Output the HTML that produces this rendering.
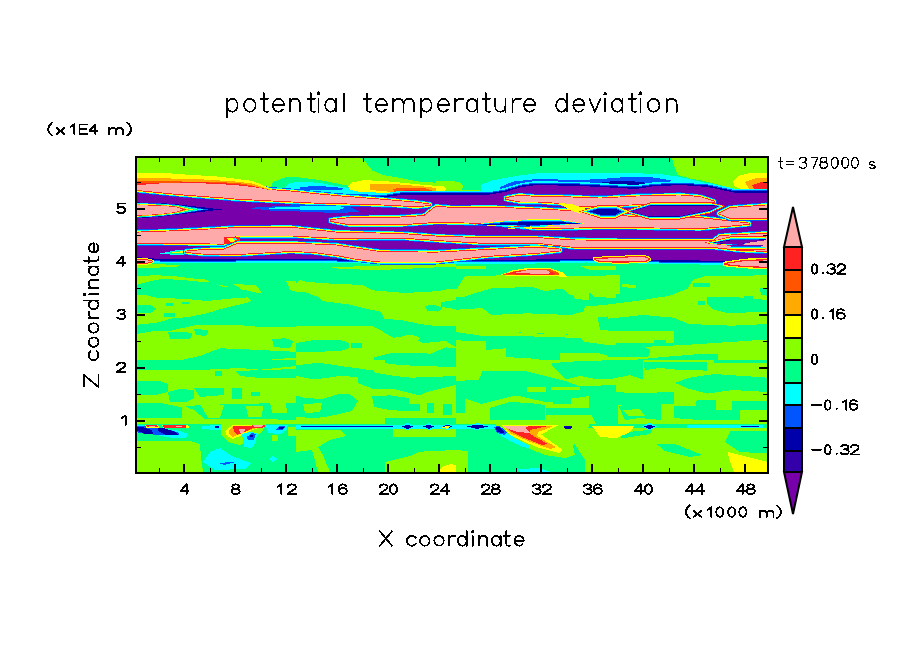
<!DOCTYPE html>
<html><head><meta charset="utf-8"><style>
html,body{margin:0;padding:0;background:#fff;}
svg{display:block;}
text{font-family:"Liberation Sans",sans-serif;fill:#000;}
.b{font-weight:bold;font-size:16px;}
</style></head><body>
<svg width="904" height="654" viewBox="0 0 904 654">
<rect width="904" height="654" fill="#fff"/>
<defs><clipPath id="pc"><rect x="137" y="158" width="630" height="314"/></clipPath></defs>
<g id="field" shape-rendering="crispEdges" clip-path="url(#pc)">
<rect x="136" y="157" width="632" height="316" fill="#88ff00"/>
<!--FIELD-->
<polygon fill="#00ff88" points="136.0,262.0 768.0,262.0 768.0,473.0 136.0,473.0"/>
<polygon fill="#88ff00" points="136.0,276.2 153.7,275.3 171.0,275.8 189.0,278.0 206.8,279.7 209.5,281.5 206.8,282.4 189.0,280.6 162.5,278.8 145.0,282.4 136.0,285.0"/>
<polygon fill="#88ff00" points="215.6,284.0 229.8,286.8 222.0,286.5"/>
<polygon fill="#88ff00" points="232.5,284.0 256.0,285.0 262.5,293.9 242.0,289.5"/>
<polygon fill="#88ff00" points="286.4,281.5 296.0,281.0 296.0,292.0 290.0,290.0"/>
<polygon fill="#88ff00" points="136.0,295.6 145.0,294.7 153.7,297.4 189.0,299.2 206.8,301.0 233.0,298.3 247.5,297.4 251.0,301.0 247.5,302.7 224.5,308.0 206.8,313.3 189.0,316.9 171.0,318.6 159.0,322.2 145.0,324.0 136.0,324.8"/>
<polygon fill="#00ff88" points="166.0,302.7 173.0,303.0 173.0,306.2 166.0,306.0"/>
<polygon fill="#00ff88" points="182.0,302.0 189.0,302.5 188.0,304.5 182.0,304.0"/>
<polygon fill="#00ff88" points="164.0,313.3 175.0,313.3 175.0,316.9 164.0,316.9"/>
<polygon fill="#00ff88" points="136.0,304.5 150.0,305.0 157.0,309.0 150.0,313.0 136.0,313.0"/>
<polygon fill="#88ff00" points="331.0,267.3 380.0,265.5 456.0,263.8 456.0,266.5 380.0,270.0 340.0,269.0"/>
<polygon fill="#88ff00" points="296.0,283.2 299.5,279.7 305.0,281.5 322.5,283.2 363.0,285.0 372.0,290.3 405.7,293.0 437.6,291.2 451.7,288.5 456.0,289.4 456.0,300.0 441.0,302.0 441.0,307.0 456.0,309.0 456.0,328.4 420.0,324.0 402.0,320.4 384.5,318.6 381.0,311.6 366.8,308.9 349.0,304.5 322.5,301.0 319.0,297.4 305.0,292.0 296.0,292.0"/>
<polygon fill="#00ff88" points="425.0,306.0 433.0,304.5 443.0,308.0 438.0,311.6 427.0,310.5"/>
<polygon fill="#88ff00" points="456.0,265.5 486.0,266.0 486.0,269.0 456.0,269.0"/>
<polygon fill="#88ff00" points="580.0,266.0 616.0,265.5 616.0,270.0 590.0,270.0"/>
<polygon fill="#88ff00" points="456.0,290.0 465.0,276.0 509.0,275.3 571.0,276.2 616.0,275.3 616.0,292.0 597.6,293.2 580.0,293.0 571.0,295.6 562.0,288.5 544.5,291.2 532.0,286.8 491.0,288.5 479.0,292.0 465.0,296.5 456.0,297.4"/>
<polygon fill="#88ff00" points="571.0,292.0 589.0,293.0 589.0,300.0 575.0,299.0"/>
<polygon fill="#88ff00" points="590.0,293.0 616.0,292.0 616.0,298.0 595.0,297.0"/>
<polygon fill="#88ff00" points="456.0,309.8 482.5,308.0 491.4,315.0 527.0,313.3 571.0,315.0 583.4,311.6 585.0,306.2 616.0,304.5 616.0,343.0 585.0,339.5 580.0,335.0 518.0,332.4 506.0,332.0 482.5,330.6 463.0,324.4 456.0,325.3"/>
<polygon fill="#00ff88" points="597.6,317.0 616.0,316.0 616.0,331.0 600.0,330.0"/>
<polygon fill="#88ff00" points="608.0,275.3 620.0,275.3 620.0,293.9 608.0,293.9"/>
<polygon fill="#88ff00" points="622.0,284.0 636.0,285.0 636.0,288.5 622.0,287.0"/>
<polygon fill="#88ff00" points="608.0,304.5 643.4,300.0 670.0,295.6 687.6,288.5 693.0,279.7 705.4,276.2 767.0,275.3 767.0,324.0 731.9,325.7 687.6,324.0 675.0,317.8 643.4,315.0 608.0,318.6"/>
<polygon fill="#00ff88" points="707.0,297.0 714.0,296.5 740.0,297.5 767.0,300.0 767.0,311.6 728.0,313.3 714.0,309.8 707.0,304.0"/>
<polygon fill="#00ff88" points="698.0,301.0 705.0,301.5 705.0,305.4 698.0,305.0"/>
<polygon fill="#00ff88" points="744.0,296.5 753.0,296.0 753.0,300.0 745.0,300.0"/>
<polygon fill="#00ff88" points="760.0,288.5 767.0,288.0 767.0,295.6 761.0,295.0"/>
<polygon fill="#00ff88" points="693.0,283.0 710.0,283.5 710.0,286.8 693.0,286.5"/>
<polygon fill="#88ff00" points="136.0,264.0 160.0,264.0 185.0,266.0 160.0,267.5 136.0,268.0"/>
<polygon fill="#88ff00" points="136.0,334.0 153.7,331.0 171.4,330.6 194.0,325.3 242.0,325.3 260.0,327.0 296.0,327.0 296.0,351.9 260.0,350.0 221.0,348.3 210.3,351.9 201.5,355.4 171.4,362.5 153.7,364.2 136.0,362.5"/>
<polygon fill="#00ff88" points="168.0,332.4 180.0,331.5 192.6,333.0 190.0,339.5 170.0,339.0"/>
<polygon fill="#00ff88" points="194.0,329.0 208.6,330.0 206.0,336.0 196.0,335.0"/>
<polygon fill="#00ff88" points="272.0,339.5 285.0,338.0 293.5,341.0 290.0,348.3 274.0,347.0"/>
<polygon fill="#88ff00" points="136.0,373.1 171.4,375.8 206.8,378.4 242.0,380.2 260.0,376.6 296.0,376.6 296.0,392.0 136.0,392.0"/>
<polygon fill="#88ff00" points="251.0,362.5 267.0,362.0 267.0,367.8 251.0,367.0"/>
<polygon fill="#88ff00" points="272.0,359.0 296.0,358.0 296.0,366.0 275.0,366.0"/>
<polygon fill="#88ff00" points="296.0,326.2 456.0,326.2 456.0,376.0 296.0,376.0"/>
<polygon fill="#00ff88" points="296.0,343.0 314.0,340.0 338.5,339.5 349.0,343.0 349.0,348.3 340.0,351.0 314.0,351.9 296.0,351.9"/>
<polygon fill="#00ff88" points="351.0,343.0 361.5,343.0 361.5,348.3 351.0,348.3"/>
<polygon fill="#00ff88" points="372.0,326.0 456.0,326.0 456.0,347.4 446.0,341.0 423.0,343.0 409.0,336.0 393.0,337.7 382.0,331.0"/>
<polygon fill="#88ff00" points="402.0,336.0 412.0,334.5 420.0,338.0 415.0,343.0 404.0,342.0"/>
<polygon fill="#00ff88" points="374.0,357.2 393.0,352.7 431.0,353.6 446.0,347.4 456.0,348.3 456.0,364.2 420.0,366.0 390.0,367.8 374.0,360.7"/>
<polygon fill="#00ff88" points="296.0,366.0 317.0,362.5 349.0,366.0 374.0,371.3 402.0,376.6 456.0,373.0 456.0,392.0 358.0,390.0 350.0,378.0 296.0,378.0"/>
<polygon fill="#88ff00" points="456.0,325.3 463.0,324.4 482.5,330.6 518.0,332.4 523.0,333.0 580.0,335.0 585.0,339.5 616.0,343.0 616.0,364.2 550.0,362.5 527.0,360.7 504.0,357.2 482.5,354.5 456.0,362.5"/>
<polygon fill="#00ff88" points="456.0,332.0 482.5,336.0 518.0,336.0 580.0,338.0 585.0,342.0 616.0,346.0 616.0,358.0 597.6,352.7 560.4,352.7 560.0,362.0 527.0,358.0 505.6,357.2 505.6,348.3 486.0,350.0 486.0,341.0 456.0,340.4"/>
<polygon fill="#88ff00" points="456.0,362.5 482.5,354.5 504.0,357.2 527.0,360.7 550.0,362.5 616.0,364.2 616.0,380.2 571.0,380.2 553.0,374.9 518.0,369.6 481.0,371.3 481.0,390.0 456.0,390.0"/>
<polygon fill="#88ff00" points="608.0,330.6 673.5,330.6 673.5,343.0 608.0,343.0"/>
<polygon fill="#00ff88" points="654.0,339.5 666.4,339.5 666.4,345.7 654.0,345.7"/>
<polygon fill="#88ff00" points="608.0,346.5 652.0,346.5 687.6,344.8 767.0,339.5 767.0,353.6 705.0,353.6 661.0,357.2 608.0,362.5"/>
<polygon fill="#00ff88" points="608.0,344.8 640.0,345.0 650.5,350.0 648.0,357.2 608.0,357.2"/>
<polygon fill="#88ff00" points="717.7,352.7 767.0,353.0 767.0,362.5 740.0,364.2 717.7,362.0"/>
<polygon fill="#88ff00" points="608.0,367.8 643.0,364.2 679.0,371.3 705.0,367.8 767.0,362.5 767.0,392.0 608.0,392.0"/>
<polygon fill="#00ff88" points="608.0,378.4 634.5,378.4 634.5,392.0 608.0,392.0"/>
<polygon fill="#00ff88" points="679.0,373.0 720.0,371.0 767.0,373.0 767.0,392.0 679.0,392.0"/>
<polygon fill="#88ff00" points="136.0,392.0 768.0,392.0 768.0,424.0 136.0,424.0"/>
<polygon fill="#00ff88" points="136.0,382.0 166.0,383.0 166.0,394.0 136.0,394.0"/>
<polygon fill="#00ff88" points="171.0,389.0 200.0,391.0 224.5,390.0 222.0,401.0 190.0,399.0 171.0,397.0"/>
<polygon fill="#00ff88" points="231.6,390.6 260.0,391.0 258.0,399.5 233.0,399.5"/>
<polygon fill="#00ff88" points="267.0,390.6 296.0,390.0 296.0,398.0 270.0,398.0"/>
<polygon fill="#00ff88" points="136.0,403.0 296.0,403.0 296.0,423.0 136.0,423.0"/>
<polygon fill="#88ff00" points="136.0,410.0 180.0,410.5 178.0,420.7 136.0,420.7"/>
<polygon fill="#88ff00" points="185.0,406.5 207.0,406.0 205.0,419.0 187.0,418.0"/>
<polygon fill="#88ff00" points="246.0,408.0 263.0,408.5 262.0,419.0 247.0,418.5"/>
<polygon fill="#88ff00" points="270.0,404.8 293.0,404.0 294.0,415.0 272.0,414.0"/>
<polygon fill="#88ff00" points="215.0,412.0 235.0,410.0 238.0,420.0 220.0,421.0"/>
<polygon fill="#00ff88" points="358.0,380.0 456.0,380.0 456.0,390.6 360.0,390.0"/>
<polygon fill="#00ff88" points="303.0,397.7 331.0,398.0 331.0,412.0 303.0,411.0"/>
<polygon fill="#00ff88" points="331.0,399.5 358.0,399.5 355.0,404.0 333.0,404.0"/>
<polygon fill="#00ff88" points="372.0,399.5 395.0,399.5 395.0,415.4 374.0,414.0"/>
<polygon fill="#00ff88" points="395.0,396.0 456.0,396.0 456.0,403.0 397.0,403.0"/>
<polygon fill="#00ff88" points="409.0,405.0 420.0,405.0 420.0,415.0 409.0,414.0"/>
<polygon fill="#00ff88" points="427.0,405.0 434.0,405.0 434.0,412.0 428.0,412.0"/>
<polygon fill="#00ff88" points="443.0,405.0 452.0,405.0 452.0,415.0 444.0,415.0"/>
<polygon fill="#00ff88" points="456.0,380.0 482.5,380.0 482.5,394.0 456.0,394.0"/>
<polygon fill="#00ff88" points="553.0,380.0 616.0,380.0 616.0,387.0 555.0,387.0"/>
<polygon fill="#00ff88" points="527.0,387.0 553.0,387.0 553.0,390.6 527.0,390.6"/>
<polygon fill="#00ff88" points="456.0,394.0 465.0,394.0 465.0,415.0 456.0,415.0"/>
<polygon fill="#00ff88" points="488.0,408.0 544.5,406.0 571.0,408.0 571.0,424.0 488.0,424.0"/>
<polygon fill="#00ff88" points="571.0,390.6 616.0,390.6 616.0,415.4 580.0,412.0 571.0,400.0"/>
<polygon fill="#88ff00" points="585.0,398.0 600.0,397.0 602.0,406.0 588.0,406.0"/>
<polygon fill="#00ff88" points="608.0,380.0 634.5,380.0 634.5,424.0 608.0,424.0"/>
<polygon fill="#00ff88" points="675.0,380.0 768.0,380.0 768.0,394.0 675.0,394.0"/>
<polygon fill="#00ff88" points="617.0,403.0 675.0,403.0 675.0,424.0 617.0,424.0"/>
<polygon fill="#88ff00" points="619.0,406.5 652.0,406.5 652.0,419.0 619.0,419.0"/>
<polygon fill="#00ff88" points="675.0,399.5 732.0,399.5 732.0,424.0 675.0,424.0"/>
<polygon fill="#88ff00" points="732.0,410.0 767.0,410.0 767.0,420.7 732.0,420.7"/>
<polygon fill="#00ff88" points="740.0,395.0 767.0,396.0 767.0,405.0 745.0,406.0"/>
<polygon fill="#88ff00" points="136.0,360.0 768.0,360.0 768.0,424.0 136.0,424.0"/>
<polygon fill="#00ff88" points="136.0,360.0 296.0,360.0 296.0,366.0 260.0,369.7 240.0,368.0 200.0,370.0 160.0,369.7 136.0,369.7"/>
<polygon fill="#00ff88" points="235.0,371.0 296.0,369.0 296.0,377.7 260.0,378.0 240.0,376.0"/>
<polygon fill="#00ff88" points="215.0,371.0 222.0,371.0 222.0,376.0 215.0,376.0"/>
<polygon fill="#00ff88" points="136.0,381.0 160.0,381.0 168.0,384.0 168.0,392.0 156.0,395.0 136.0,395.4"/>
<polygon fill="#00ff88" points="168.0,392.0 180.0,389.0 194.0,390.0 194.0,398.0 185.0,402.5 170.0,402.0"/>
<polygon fill="#00ff88" points="194.0,388.0 224.0,388.0 224.0,395.0 200.0,397.0"/>
<polygon fill="#00ff88" points="232.0,388.0 242.0,388.0 242.0,399.0 232.0,399.0"/>
<polygon fill="#00ff88" points="251.0,392.0 260.0,392.0 260.0,396.0 251.0,396.0"/>
<polygon fill="#00ff88" points="136.0,402.5 160.0,403.0 180.0,407.0 200.0,405.0 240.0,404.0 296.0,402.5 296.0,420.0 260.0,419.0 220.0,419.5 180.0,418.4 136.0,418.0"/>
<polygon fill="#88ff00" points="182.0,405.0 194.0,410.0 205.0,419.0 182.0,419.0"/>
<polygon fill="#88ff00" points="200.0,404.0 224.0,405.0 220.0,418.0 208.0,418.0"/>
<polygon fill="#88ff00" points="246.0,406.0 263.0,406.0 262.0,417.0 248.0,417.0"/>
<polygon fill="#88ff00" points="270.0,402.5 286.0,402.5 287.0,413.0 272.0,413.0"/>
<polygon fill="#00ff88" points="296.0,365.3 319.0,362.7 342.0,366.2 374.0,370.6 374.0,377.7 340.0,376.0 314.0,379.5 296.0,376.0"/>
<polygon fill="#00ff88" points="384.5,360.0 456.0,360.0 456.0,367.0 420.0,366.0 400.0,365.0 384.5,363.0"/>
<polygon fill="#00ff88" points="358.0,376.0 374.0,372.4 395.0,376.0 411.0,377.7 456.0,376.0 456.0,384.8 427.0,391.9 420.0,395.4 395.0,389.2 374.0,389.2 358.0,383.0"/>
<polygon fill="#00ff88" points="296.0,395.4 305.0,398.0 322.5,399.0 340.0,393.6 349.0,393.6 358.0,400.7 352.0,411.0 330.0,416.0 314.0,418.4 296.0,416.6"/>
<polygon fill="#88ff00" points="303.0,404.0 322.0,403.0 320.0,412.0 305.0,413.0"/>
<polygon fill="#00ff88" points="372.0,396.0 390.0,395.4 409.0,398.0 409.0,411.3 390.0,410.0 374.0,407.0"/>
<polygon fill="#00ff88" points="409.0,404.0 420.0,404.0 420.0,411.3 409.0,411.3"/>
<polygon fill="#00ff88" points="427.0,402.5 434.0,402.5 434.0,413.0 427.0,413.0"/>
<polygon fill="#00ff88" points="443.0,404.0 452.0,404.0 452.0,415.0 443.0,415.0"/>
<polygon fill="#00ff88" points="384.5,418.4 456.0,418.4 456.0,424.0 384.5,424.0"/>
<polygon fill="#00ff88" points="551.6,363.5 565.7,361.8 616.0,360.0 616.0,377.7 597.6,379.5 580.0,376.0 565.7,379.5 553.0,367.0"/>
<polygon fill="#00ff88" points="456.0,381.2 479.0,379.5 482.5,370.6 523.0,370.6 544.5,376.0 565.7,381.2 580.0,386.5 616.0,384.8 616.0,392.0 569.0,399.0 548.0,402.5 516.0,395.4 481.0,404.0 456.0,395.4"/>
<polygon fill="#88ff00" points="527.0,386.5 546.0,386.5 546.0,392.0 527.0,392.0"/>
<polygon fill="#88ff00" points="551.0,386.5 580.0,386.5 580.0,390.0 551.0,390.0"/>
<polygon fill="#00ff88" points="489.6,408.0 510.0,402.0 530.0,403.0 544.5,405.0 544.5,420.0 489.6,420.0"/>
<polygon fill="#00ff88" points="553.0,395.0 571.0,393.6 571.0,404.0 553.0,404.0"/>
<polygon fill="#00ff88" points="546.0,408.0 590.5,408.0 590.5,415.0 546.0,415.0"/>
<polygon fill="#00ff88" points="588.7,392.0 616.0,392.0 616.0,424.0 596.0,424.0 588.7,410.0"/>
<polygon fill="#00ff88" points="456.0,395.4 465.0,395.4 465.0,413.0 456.0,413.0"/>
<polygon fill="#00ff88" points="608.0,360.0 643.0,360.0 643.4,379.5 630.0,375.0 608.0,379.5"/>
<polygon fill="#00ff88" points="643.4,361.8 707.0,361.8 707.0,370.6 680.0,370.0 660.0,368.0 645.0,370.0"/>
<polygon fill="#00ff88" points="714.0,360.0 768.0,360.0 768.0,362.7 714.0,362.7"/>
<polygon fill="#00ff88" points="675.0,383.0 689.4,377.7 714.0,374.0 768.0,377.7 768.0,392.0 732.0,390.0 707.0,393.6 687.6,388.3"/>
<polygon fill="#00ff88" points="608.0,392.0 640.0,393.0 673.5,392.0 673.5,404.0 640.0,404.5 618.0,405.0 608.0,404.0"/>
<polygon fill="#00ff88" points="608.0,404.0 618.0,404.0 618.0,424.0 608.0,424.0"/>
<polygon fill="#00ff88" points="618.6,406.0 640.0,402.5 661.0,404.0 661.0,420.0 640.0,418.0 625.0,420.0"/>
<polygon fill="#88ff00" points="623.0,410.0 640.0,409.0 645.0,416.0 628.0,416.0"/>
<polygon fill="#00ff88" points="673.5,404.0 690.0,400.7 716.0,400.0 740.0,401.0 768.0,400.7 768.0,420.0 735.0,420.0 700.0,420.0 673.5,418.0"/>
<polygon fill="#88ff00" points="673.5,399.0 696.0,399.0 696.0,406.0 673.5,406.0"/>
<polygon fill="#88ff00" points="716.0,399.0 732.0,399.0 732.0,409.6 716.0,409.6"/>
<polygon fill="#88ff00" points="740.0,410.0 768.0,410.0 768.0,420.0 740.0,420.0"/>
<polygon fill="#88ff00" points="149.0,440.5 190.0,441.0 200.0,444.0 201.0,457.0 203.0,472.0 136.0,472.0 136.0,441.0"/>
<polygon fill="#88ff00" points="296.0,429.6 340.0,430.0 346.0,436.0 330.0,440.0 318.0,447.0 323.0,455.0 330.0,472.0 296.0,472.0"/>
<polygon fill="#00ff88" points="296.0,452.0 312.0,450.0 318.0,472.0 296.0,472.0"/>
<polygon fill="#88ff00" points="393.0,428.0 456.0,428.0 456.0,436.6 393.0,436.6"/>
<polygon fill="#88ff00" points="384.5,462.0 410.0,456.0 420.0,451.7 456.0,450.0 456.0,472.0 384.5,472.0"/>
<polygon fill="#88ff00" points="456.0,450.0 468.0,451.0 468.0,472.0 456.0,472.0"/>
<polygon fill="#88ff00" points="560.0,428.0 616.0,428.0 616.0,472.0 585.0,472.0 585.0,460.0 572.0,440.0"/>
<polygon fill="#88ff00" points="616.0,428.0 768.0,428.0 768.0,472.0 616.0,472.0"/>
<polygon fill="#00ff88" points="731.0,430.5 768.0,431.0 768.0,453.5 740.0,452.0 725.0,442.0"/>
<polygon fill="#00ff88" points="656.7,444.0 675.0,444.0 702.7,455.0 690.0,457.0 665.0,451.0"/>
<polygon fill="#00ff88" points="618.6,433.0 652.0,429.6 650.0,434.0 622.0,438.4"/>
<polygon fill="#00ffff" points="203.0,462.0 210.0,452.0 220.0,448.0 232.0,456.0 251.0,463.0 245.0,469.0 215.0,470.0"/>
<polygon fill="#0055ff" points="220.0,463.5 230.0,461.5 234.0,462.5 224.0,465.0"/>
<polygon fill="#00ffff" points="268.7,459.0 273.0,456.0 277.6,459.0 273.0,462.0"/>
<polygon fill="#ffff00" points="439.0,472.0 442.0,467.0 450.0,464.0 456.0,465.0 456.0,472.0"/>
<polygon fill="#00ffff" points="518.0,469.0 540.0,468.0 550.0,472.0 520.0,472.0"/>
<polygon fill="#ffff00" points="727.5,452.0 740.0,455.0 768.0,462.0 768.0,472.0 734.0,472.0 730.0,462.0"/>
<polygon fill="#ffff00" points="608.0,426.0 634.5,426.0 630.0,432.0 616.0,438.4 608.0,438.4"/>
<polygon fill="#00ff88" points="136.0,434.0 216.0,434.0 216.0,441.5 190.0,441.0 149.0,440.0 136.0,441.0"/>
<polygon fill="#00ffff" points="136.0,425.0 141.0,425.0 160.0,428.0 180.0,431.0 188.0,434.0 186.0,438.0 170.0,437.5 150.0,434.0 136.0,433.0"/>
<polygon fill="#0055ff" points="136.0,426.0 142.0,426.0 158.0,428.0 172.0,430.5 179.0,433.0 178.5,435.4 160.0,435.0 145.0,434.0 136.0,432.0"/>
<polygon fill="#0000aa" points="136.0,427.0 141.0,426.5 152.0,430.0 153.0,433.5 145.0,434.0 136.0,430.0"/>
<polygon fill="#0000aa" points="158.0,428.5 164.0,428.3 175.0,432.0 178.0,434.5 165.0,434.5 158.0,431.0"/>
<polygon fill="#ffff00" points="145.0,425.0 158.0,425.0 159.0,427.5 146.0,427.5"/>
<polygon fill="#ff2222" points="146.0,425.3 157.0,425.3 158.0,427.2 147.0,427.2"/>
<polygon fill="#ffaaaa" points="149.0,425.8 155.0,425.8 155.0,426.8 149.0,426.8"/>
<polygon fill="#ffff00" points="162.0,424.8 188.0,424.8 189.0,428.0 163.0,428.0"/>
<polygon fill="#ff2222" points="163.0,425.2 186.0,425.2 186.0,427.8 164.0,427.8"/>
<polygon fill="#ffaaaa" points="176.0,425.6 182.0,425.6 182.0,426.8 176.0,426.8"/>
<polygon fill="#00ffff" points="202.0,425.6 216.0,425.6 216.0,429.0 202.0,429.0"/>
<polygon fill="#00ffff" points="210.0,425.0 221.0,425.0 221.0,430.0 210.0,430.0"/>
<polygon fill="#0000aa" points="215.0,426.0 219.0,426.0 219.0,427.5 215.0,427.5"/>
<polygon fill="#88ff00" points="221.0,424.0 265.8,424.0 262.0,432.0 250.0,440.0 240.0,445.0 228.0,442.0 221.0,434.0"/>
<polygon fill="#ffff00" points="225.0,431.0 232.0,425.5 255.0,425.0 264.8,426.0 252.0,430.0 240.0,436.0 233.0,439.0 227.0,436.0"/>
<polygon fill="#ffaa00" points="229.0,430.0 234.0,426.0 254.0,425.5 262.0,426.5 250.0,430.0 240.0,434.0 233.0,437.0 229.0,434.0"/>
<polygon fill="#ff2222" points="233.0,426.0 252.0,426.0 252.8,428.0 245.0,432.0 237.0,435.0 234.0,431.0"/>
<polygon fill="#ff2222" points="252.0,424.5 264.0,424.5 265.8,426.0 262.0,428.0 252.0,428.0"/>
<polygon fill="#ffaaaa" points="239.0,429.0 245.0,429.5 244.0,433.0 240.0,433.0"/>
<polygon fill="#ffaaaa" points="253.0,425.2 263.0,425.2 262.0,427.3 254.0,427.3"/>
<polygon fill="#00ffff" points="242.0,434.0 250.0,432.0 257.0,433.0 256.0,442.0 252.0,448.0 244.0,447.0"/>
<polygon fill="#0055ff" points="246.8,437.0 252.0,433.0 255.8,434.0 254.0,440.0 248.0,440.0"/>
<polygon fill="#0000aa" points="250.0,435.0 253.0,435.0 252.5,437.0 250.0,437.0"/>
<polygon fill="#00ffff" points="265.8,425.0 287.7,425.0 287.0,430.0 280.0,434.0 268.0,433.0"/>
<polygon fill="#0055ff" points="275.7,429.5 280.0,426.0 285.7,426.0 283.0,430.0 277.0,430.5"/>
<polygon fill="#0000aa" points="279.0,427.0 284.0,427.0 282.5,429.0 279.0,429.0"/>
<polygon fill="#88ff00" points="271.8,435.0 277.7,435.0 277.7,441.0 271.8,441.0"/>
<polygon fill="#88ff00" points="287.7,427.0 296.0,427.0 296.0,436.0 288.0,436.0"/>
<polygon fill="#00ffff" points="296.0,424.5 560.0,424.5 560.0,428.5 296.0,428.5"/>
<polygon fill="#0000aa" points="301.0,425.5 393.0,425.5 393.0,427.0 301.0,427.0"/>
<polygon fill="#00ffff" points="400.0,426.5 407.5,423.0 415.0,426.5 407.5,430.5"/>
<polygon fill="#0000aa" points="402.0,426.5 407.5,424.5 413.0,426.5 407.5,429.0"/>
<polygon fill="#00ffff" points="421.4,426.5 428.7,423.0 436.0,426.5 428.7,430.5"/>
<polygon fill="#0000aa" points="423.4,426.5 428.7,424.5 434.0,426.5 428.7,429.0"/>
<polygon fill="#00ffff" points="441.0,426.5 447.5,423.0 454.0,426.5 447.5,430.5"/>
<polygon fill="#0000aa" points="443.0,426.5 447.5,424.5 452.0,426.5 447.5,429.0"/>
<polygon fill="#00ffff" points="464.6,426.5 477.3,423.0 490.0,426.5 477.3,430.5"/>
<polygon fill="#0000aa" points="466.6,426.5 477.3,424.5 488.0,426.5 477.3,429.0"/>
<polygon fill="#00ffff" points="560.0,426.5 567.5,423.0 575.0,426.5 567.5,430.5"/>
<polygon fill="#0000aa" points="562.0,426.5 567.5,424.5 573.0,426.5 567.5,429.0"/>
<polygon fill="#00ffff" points="642.0,426.5 649.5,423.0 657.0,426.5 649.5,430.5"/>
<polygon fill="#0000aa" points="644.0,426.5 649.5,424.5 655.0,426.5 649.5,429.0"/>
<polygon fill="#00ffff" points="687.0,425.0 763.0,425.0 763.0,427.5 687.0,427.5"/>
<polygon fill="#0000aa" points="740.0,425.5 760.0,425.5 758.0,427.0 742.0,427.0"/>
<polygon fill="#88ff00" points="495.0,423.0 590.0,423.0 585.0,435.0 573.0,445.0 575.0,455.0 565.0,458.0 545.0,455.0 520.0,445.0 500.0,433.0"/>
<polygon fill="#00ffff" points="494.0,428.0 500.0,428.0 515.0,438.0 530.0,446.0 528.0,449.0 512.0,442.0 498.0,434.0"/>
<polygon fill="#0055ff" points="494.0,427.0 499.0,425.5 507.0,432.0 505.0,435.0 497.0,433.0"/>
<polygon fill="#0000aa" points="495.5,427.5 499.0,426.5 505.0,432.0 503.0,433.5 497.0,431.5"/>
<polygon fill="#ffff00" points="502.0,425.0 559.0,425.0 541.0,434.4 563.0,450.0 559.0,453.0 536.0,447.0 510.0,435.0"/>
<polygon fill="#ffaa00" points="504.0,425.5 555.0,425.5 538.0,432.0 537.0,436.0 556.0,447.0 550.0,449.0 528.0,441.0 510.0,433.0"/>
<polygon fill="#ff2222" points="506.0,426.0 548.0,426.0 530.0,430.0 530.0,434.0 548.0,444.0 542.0,445.0 522.0,437.0 510.0,431.0"/>
<polygon fill="#ffaaaa" points="503.0,425.5 530.0,425.5 525.0,428.0 530.0,433.0 518.0,432.0 508.0,429.0"/>
<polygon fill="#0000aa" points="563.0,425.5 573.0,425.5 571.0,429.0 565.0,429.0"/>
<polygon fill="#ffff00" points="592.0,426.0 616.0,426.0 616.0,438.0 600.0,437.0 595.0,430.0"/>
<polygon fill="#ffff00" points="440.0,427.0 450.0,426.0 448.0,429.0"/>
<polygon fill="#00ff88" points="362.0,158.0 672.0,158.0 674.0,166.0 678.0,175.0 690.0,178.5 702.0,180.5 720.0,185.0 736.0,190.0 768.0,193.0 768.0,205.0 440.0,205.0 436.0,182.7 419.0,181.6 402.4,178.3 383.6,175.0 372.5,170.5"/>
<polygon fill="#00ffff" points="481.0,185.0 490.0,181.0 497.0,179.4 519.0,175.5 536.0,173.5 580.0,173.0 636.0,173.3 660.0,174.0 680.0,177.0 702.0,182.0 720.0,186.0 736.0,189.0 768.0,192.5 768.0,205.0 481.0,205.0"/>
<polygon fill="#0055ff" points="500.0,187.0 513.0,181.6 536.0,179.0 580.0,180.0 636.0,179.4 650.0,181.0 680.0,181.5 700.0,184.0 720.0,188.5 736.0,191.0 768.0,194.5 768.0,205.0 500.0,205.0"/>
<polygon fill="#0055ff" points="560.0,181.0 600.0,179.0 620.0,177.5 650.0,177.0 666.0,179.5 685.0,183.0 666.0,190.0 640.0,190.0 600.0,190.0 560.0,190.0"/>
<polygon fill="#0000aa" points="590.0,184.0 610.0,181.5 630.0,181.0 648.0,183.0 655.0,186.0 640.0,190.0 600.0,190.0"/>
<polygon fill="#88ff00" points="436.0,181.0 450.0,181.0 460.0,182.0 463.0,186.0 462.0,190.0 475.0,190.0 484.0,191.0 484.0,194.0 436.0,194.0"/>
<polygon fill="#ffff00" points="436.0,186.0 444.0,186.5 447.0,189.0 444.0,191.5 436.0,191.5"/>
<polygon fill="#00ff88" points="270.0,190.0 273.0,182.0 286.0,177.2 300.0,177.5 320.0,180.0 336.0,183.3 350.0,186.0 365.0,190.0 385.0,194.0 390.0,198.0 270.0,198.0"/>
<polygon fill="#00ffff" points="283.0,189.0 290.0,183.0 300.0,181.6 320.0,183.0 336.0,186.0 355.0,189.0 380.0,193.0 387.0,197.0 283.0,197.0"/>
<polygon fill="#0055ff" points="300.0,187.0 315.0,186.0 336.0,187.0 345.0,189.0 336.0,190.5 300.0,190.0"/>
<polygon fill="#ffff00" points="348.0,186.0 352.0,182.5 364.0,180.0 391.0,181.6 424.5,185.0 440.0,186.0 447.0,189.0 440.0,192.0 424.0,193.5 391.0,193.0 360.0,192.0 350.0,190.0"/>
<polygon fill="#ffaa00" points="370.0,184.5 391.0,183.8 424.0,186.5 436.0,188.0 436.0,191.5 395.0,192.2 370.0,190.0"/>
<polygon fill="#ff5500" points="393.0,189.0 400.0,187.7 425.0,188.0 432.0,190.5 425.0,192.5 395.0,192.5"/>
<polygon fill="#ff2222" points="404.0,190.0 420.0,190.0 421.0,192.0 404.0,192.0"/>
<polygon fill="#ffff00" points="733.0,182.0 738.0,176.0 750.0,173.0 767.0,172.5 767.0,191.0 745.0,190.0 735.0,187.0"/>
<polygon fill="#ffaa00" points="745.0,182.0 755.0,178.5 767.0,178.0 767.0,191.0 750.0,190.5"/>
<polygon fill="#ff2222" points="752.0,185.0 760.0,182.5 767.0,182.0 767.0,191.0 755.0,190.0"/>
<polygon fill="#00ffff" stroke="#00ffff" stroke-width="8.0" stroke-linejoin="round" points="136.0,187.0 180.0,189.0 236.0,192.0 296.0,196.5 336.0,196.0 384.0,197.5 400.0,195.0 436.0,194.5 490.0,194.5 505.0,192.0 522.0,187.0 536.0,185.0 580.0,186.0 600.0,187.0 636.0,189.0 652.0,186.5 680.0,185.0 708.0,187.0 722.0,190.0 736.0,193.0 768.0,192.5 768.0,259.0 736.0,260.5 700.0,260.5 658.0,260.0 636.0,259.5 586.0,258.5 536.0,259.5 486.0,260.0 436.0,260.0 360.0,259.5 336.0,259.0 236.0,259.0 160.0,259.0 136.0,257.0"/>
<polygon fill="#0055ff" stroke="#0055ff" stroke-width="5.0" stroke-linejoin="round" points="136.0,187.0 180.0,189.0 236.0,192.0 296.0,196.5 336.0,196.0 384.0,197.5 400.0,195.0 436.0,194.5 490.0,194.5 505.0,192.0 522.0,187.0 536.0,185.0 580.0,186.0 600.0,187.0 636.0,189.0 652.0,186.5 680.0,185.0 708.0,187.0 722.0,190.0 736.0,193.0 768.0,192.5 768.0,259.0 736.0,260.5 700.0,260.5 658.0,260.0 636.0,259.5 586.0,258.5 536.0,259.5 486.0,260.0 436.0,260.0 360.0,259.5 336.0,259.0 236.0,259.0 160.0,259.0 136.0,257.0"/>
<polygon fill="#0000aa" stroke="#0000aa" stroke-width="3.0" stroke-linejoin="round" points="136.0,187.0 180.0,189.0 236.0,192.0 296.0,196.5 336.0,196.0 384.0,197.5 400.0,195.0 436.0,194.5 490.0,194.5 505.0,192.0 522.0,187.0 536.0,185.0 580.0,186.0 600.0,187.0 636.0,189.0 652.0,186.5 680.0,185.0 708.0,187.0 722.0,190.0 736.0,193.0 768.0,192.5 768.0,259.0 736.0,260.5 700.0,260.5 658.0,260.0 636.0,259.5 586.0,258.5 536.0,259.5 486.0,260.0 436.0,260.0 360.0,259.5 336.0,259.0 236.0,259.0 160.0,259.0 136.0,257.0"/>
<polygon fill="#7700aa" points="136.0,187.0 180.0,189.0 236.0,192.0 296.0,196.5 336.0,196.0 384.0,197.5 400.0,195.0 436.0,194.5 490.0,194.5 505.0,192.0 522.0,187.0 536.0,185.0 580.0,186.0 600.0,187.0 636.0,189.0 652.0,186.5 680.0,185.0 708.0,187.0 722.0,190.0 736.0,193.0 768.0,192.5 768.0,259.0 736.0,260.5 700.0,260.5 658.0,260.0 636.0,259.5 586.0,258.5 536.0,259.5 486.0,260.0 436.0,260.0 360.0,259.5 336.0,259.0 236.0,259.0 160.0,259.0 136.0,257.0"/>
<polygon fill="#0055ff" points="247.0,208.0 280.0,206.0 320.0,204.0 336.0,203.5 350.0,207.0 360.0,212.0 336.0,213.0 300.0,211.5 270.0,210.5"/>
<polygon fill="#00ffff" points="267.0,207.8 300.0,206.5 336.0,205.0 345.0,208.0 336.0,210.5 300.0,209.5 270.0,209.0"/>
<polygon fill="#0055ff" points="136.0,210.0 150.0,210.5 146.0,212.0 136.0,212.0"/>
<polygon fill="#0055ff" stroke="#0055ff" stroke-width="6.0" stroke-linejoin="round" points="136.0,185.5 147.0,184.4 169.0,182.7 202.0,183.3 224.0,184.4 236.0,185.2 258.0,187.7 269.0,189.9 291.0,191.5 313.0,193.8 336.0,196.0 391.0,200.4 416.0,202.6 430.0,204.5 430.0,205.0 416.0,206.5 391.0,204.8 336.0,203.2 313.0,202.6 291.0,201.5 269.0,200.4 236.0,198.7 224.0,197.6 202.0,196.0 180.0,194.3 158.0,192.1 136.0,189.9"/>
<polygon fill="#00ffff" stroke="#00ffff" stroke-width="4.6" stroke-linejoin="round" points="136.0,185.5 147.0,184.4 169.0,182.7 202.0,183.3 224.0,184.4 236.0,185.2 258.0,187.7 269.0,189.9 291.0,191.5 313.0,193.8 336.0,196.0 391.0,200.4 416.0,202.6 430.0,204.5 430.0,205.0 416.0,206.5 391.0,204.8 336.0,203.2 313.0,202.6 291.0,201.5 269.0,200.4 236.0,198.7 224.0,197.6 202.0,196.0 180.0,194.3 158.0,192.1 136.0,189.9"/>
<polygon fill="#ffff00" stroke="#ffff00" stroke-width="3.2" stroke-linejoin="round" points="136.0,185.5 147.0,184.4 169.0,182.7 202.0,183.3 224.0,184.4 236.0,185.2 258.0,187.7 269.0,189.9 291.0,191.5 313.0,193.8 336.0,196.0 391.0,200.4 416.0,202.6 430.0,204.5 430.0,205.0 416.0,206.5 391.0,204.8 336.0,203.2 313.0,202.6 291.0,201.5 269.0,200.4 236.0,198.7 224.0,197.6 202.0,196.0 180.0,194.3 158.0,192.1 136.0,189.9"/>
<polygon fill="#ff2222" stroke="#ff2222" stroke-width="1.8" stroke-linejoin="round" points="136.0,185.5 147.0,184.4 169.0,182.7 202.0,183.3 224.0,184.4 236.0,185.2 258.0,187.7 269.0,189.9 291.0,191.5 313.0,193.8 336.0,196.0 391.0,200.4 416.0,202.6 430.0,204.5 430.0,205.0 416.0,206.5 391.0,204.8 336.0,203.2 313.0,202.6 291.0,201.5 269.0,200.4 236.0,198.7 224.0,197.6 202.0,196.0 180.0,194.3 158.0,192.1 136.0,189.9"/>
<polygon fill="#ffff00" points="136.0,172.7 169.0,173.3 191.0,175.0 213.0,176.1 228.0,177.7 236.0,178.8 252.6,181.0 267.0,187.0 275.0,191.0 136.0,191.0"/>
<polygon fill="#ffaa00" points="136.0,178.0 191.0,178.8 213.0,180.0 236.0,181.6 252.0,183.5 266.0,188.0 274.0,191.0 136.0,191.0"/>
<polygon fill="#ff5500" points="136.0,180.5 236.0,182.7 250.0,185.0 264.0,189.0 272.0,191.0 136.0,191.0"/>
<polygon fill="#ff2222" points="136.0,182.7 160.0,183.0 200.0,182.0 236.0,184.0 255.0,186.5 270.0,190.0 136.0,190.0"/>
<polygon fill="#ffaaaa" points="136.0,185.5 147.0,184.4 169.0,182.7 202.0,183.3 224.0,184.4 236.0,185.2 258.0,187.7 269.0,189.9 291.0,191.5 313.0,193.8 336.0,196.0 391.0,200.4 416.0,202.6 430.0,204.5 430.0,205.0 416.0,206.5 391.0,204.8 336.0,203.2 313.0,202.6 291.0,201.5 269.0,200.4 236.0,198.7 224.0,197.6 202.0,196.0 180.0,194.3 158.0,192.1 136.0,189.9"/>
<polygon fill="#0000aa" points="136.0,202.4 160.0,203.0 176.0,204.2 222.0,209.5 176.0,214.8 160.0,216.8 136.0,218.3"/>
<polygon fill="#0055ff" points="136.0,202.8 160.0,203.4 176.0,204.6 208.0,209.5 176.0,214.4 160.0,216.4 136.0,217.9"/>
<polygon fill="#00ffff" points="136.0,203.2 160.0,203.8 176.0,205.0 203.0,209.5 176.0,214.0 160.0,216.0 136.0,217.5"/>
<polygon fill="#00ff88" points="136.0,203.6 160.0,204.2 176.0,205.4 198.0,209.5 176.0,213.6 160.0,215.6 136.0,217.1"/>
<polygon fill="#ffff00" points="136.0,204.0 160.0,204.6 176.0,205.8 193.0,209.5 176.0,213.2 160.0,215.2 136.0,216.7"/>
<polygon fill="#ffaa00" points="136.0,204.4 160.0,205.0 176.0,206.2 189.0,209.5 176.0,212.8 160.0,214.8 136.0,216.3"/>
<polygon fill="#ff2222" points="136.0,204.8 160.0,205.4 176.0,206.6 186.0,209.5 176.0,212.4 160.0,214.4 136.0,215.9"/>
<polygon fill="#ffaaaa" points="136.0,205.2 160.0,205.8 176.0,207.0 182.0,209.5 176.0,212.0 160.0,214.0 136.0,215.5"/>
<polygon fill="#0055ff" stroke="#0055ff" stroke-width="6.0" stroke-linejoin="round" points="136.0,232.6 180.0,231.0 236.0,228.0 291.0,227.7 336.0,232.5 402.0,234.0 436.0,236.5 480.0,238.0 536.0,238.0 575.0,240.4 636.0,241.0 713.0,241.0 720.0,236.0 767.0,233.5 767.0,251.0 740.0,250.0 713.0,247.0 636.0,247.0 575.0,247.0 536.0,242.7 480.0,242.7 436.0,240.0 402.0,237.7 336.0,238.0 291.0,235.5 236.0,235.5 224.0,243.7 180.0,243.1 136.0,242.6"/>
<polygon fill="#00ffff" stroke="#00ffff" stroke-width="4.6" stroke-linejoin="round" points="136.0,232.6 180.0,231.0 236.0,228.0 291.0,227.7 336.0,232.5 402.0,234.0 436.0,236.5 480.0,238.0 536.0,238.0 575.0,240.4 636.0,241.0 713.0,241.0 720.0,236.0 767.0,233.5 767.0,251.0 740.0,250.0 713.0,247.0 636.0,247.0 575.0,247.0 536.0,242.7 480.0,242.7 436.0,240.0 402.0,237.7 336.0,238.0 291.0,235.5 236.0,235.5 224.0,243.7 180.0,243.1 136.0,242.6"/>
<polygon fill="#ffff00" stroke="#ffff00" stroke-width="3.2" stroke-linejoin="round" points="136.0,232.6 180.0,231.0 236.0,228.0 291.0,227.7 336.0,232.5 402.0,234.0 436.0,236.5 480.0,238.0 536.0,238.0 575.0,240.4 636.0,241.0 713.0,241.0 720.0,236.0 767.0,233.5 767.0,251.0 740.0,250.0 713.0,247.0 636.0,247.0 575.0,247.0 536.0,242.7 480.0,242.7 436.0,240.0 402.0,237.7 336.0,238.0 291.0,235.5 236.0,235.5 224.0,243.7 180.0,243.1 136.0,242.6"/>
<polygon fill="#ff2222" stroke="#ff2222" stroke-width="1.8" stroke-linejoin="round" points="136.0,232.6 180.0,231.0 236.0,228.0 291.0,227.7 336.0,232.5 402.0,234.0 436.0,236.5 480.0,238.0 536.0,238.0 575.0,240.4 636.0,241.0 713.0,241.0 720.0,236.0 767.0,233.5 767.0,251.0 740.0,250.0 713.0,247.0 636.0,247.0 575.0,247.0 536.0,242.7 480.0,242.7 436.0,240.0 402.0,237.7 336.0,238.0 291.0,235.5 236.0,235.5 224.0,243.7 180.0,243.1 136.0,242.6"/>
<polygon fill="#ffaaaa" points="136.0,232.6 180.0,231.0 236.0,228.0 291.0,227.7 336.0,232.5 402.0,234.0 436.0,236.5 480.0,238.0 536.0,238.0 575.0,240.4 636.0,241.0 713.0,241.0 720.0,236.0 767.0,233.5 767.0,251.0 740.0,250.0 713.0,247.0 636.0,247.0 575.0,247.0 536.0,242.7 480.0,242.7 436.0,240.0 402.0,237.7 336.0,238.0 291.0,235.5 236.0,235.5 224.0,243.7 180.0,243.1 136.0,242.6"/>
<polygon fill="#ff2222" points="224.0,236.5 240.0,236.5 240.0,241.5 236.0,243.0 240.0,249.0 234.0,253.0 224.0,253.0 224.0,249.0 230.0,246.0 224.0,243.0"/>
<polygon fill="#ffff00" points="227.0,238.0 232.0,237.5 236.0,241.0 231.0,242.5"/>
<polygon fill="#ffaa00" points="226.0,248.0 232.0,245.5 235.0,249.0 229.0,251.0"/>
<polygon fill="#00ffff" points="232.0,237.5 236.0,237.5 237.0,240.0 234.0,240.0"/>
<polygon fill="#00ffff" points="160.0,253.5 175.0,250.5 186.0,249.5 186.0,255.0 175.0,255.0"/>
<polygon fill="#00ff88" points="166.0,253.0 178.0,251.0 186.0,250.5 186.0,254.0 176.0,254.3"/>
<polygon fill="#ffff00" points="172.0,252.5 186.0,250.8 186.0,253.3 178.0,253.3"/>
<polygon fill="#0055ff" stroke="#0055ff" stroke-width="6.0" stroke-linejoin="round" points="186.0,251.5 202.0,250.0 224.0,249.5 238.0,243.5 291.0,243.5 336.0,245.4 358.0,248.7 380.0,252.0 436.0,252.6 486.0,250.0 536.0,247.5 560.0,249.5 560.0,250.5 536.0,253.0 486.0,256.0 436.0,261.5 380.0,261.5 358.0,259.2 336.0,255.0 313.0,252.0 291.0,251.0 236.0,254.2 202.0,253.6 186.0,252.0"/>
<polygon fill="#00ffff" stroke="#00ffff" stroke-width="4.6" stroke-linejoin="round" points="186.0,251.5 202.0,250.0 224.0,249.5 238.0,243.5 291.0,243.5 336.0,245.4 358.0,248.7 380.0,252.0 436.0,252.6 486.0,250.0 536.0,247.5 560.0,249.5 560.0,250.5 536.0,253.0 486.0,256.0 436.0,261.5 380.0,261.5 358.0,259.2 336.0,255.0 313.0,252.0 291.0,251.0 236.0,254.2 202.0,253.6 186.0,252.0"/>
<polygon fill="#ffff00" stroke="#ffff00" stroke-width="3.2" stroke-linejoin="round" points="186.0,251.5 202.0,250.0 224.0,249.5 238.0,243.5 291.0,243.5 336.0,245.4 358.0,248.7 380.0,252.0 436.0,252.6 486.0,250.0 536.0,247.5 560.0,249.5 560.0,250.5 536.0,253.0 486.0,256.0 436.0,261.5 380.0,261.5 358.0,259.2 336.0,255.0 313.0,252.0 291.0,251.0 236.0,254.2 202.0,253.6 186.0,252.0"/>
<polygon fill="#ff2222" stroke="#ff2222" stroke-width="1.8" stroke-linejoin="round" points="186.0,251.5 202.0,250.0 224.0,249.5 238.0,243.5 291.0,243.5 336.0,245.4 358.0,248.7 380.0,252.0 436.0,252.6 486.0,250.0 536.0,247.5 560.0,249.5 560.0,250.5 536.0,253.0 486.0,256.0 436.0,261.5 380.0,261.5 358.0,259.2 336.0,255.0 313.0,252.0 291.0,251.0 236.0,254.2 202.0,253.6 186.0,252.0"/>
<polygon fill="#ffaaaa" points="186.0,251.5 202.0,250.0 224.0,249.5 238.0,243.5 291.0,243.5 336.0,245.4 358.0,248.7 380.0,252.0 436.0,252.6 486.0,250.0 536.0,247.5 560.0,249.5 560.0,250.5 536.0,253.0 486.0,256.0 436.0,261.5 380.0,261.5 358.0,259.2 336.0,255.0 313.0,252.0 291.0,251.0 236.0,254.2 202.0,253.6 186.0,252.0"/>
<polygon fill="#0055ff" stroke="#0055ff" stroke-width="6.0" stroke-linejoin="round" points="331.0,220.0 350.0,218.0 400.0,217.5 424.0,216.0 436.0,206.5 452.0,208.0 491.0,207.6 536.0,209.2 558.0,210.4 590.0,212.0 620.0,216.0 636.0,217.0 700.0,218.0 749.0,223.5 749.0,224.0 700.0,228.3 636.0,227.2 600.0,227.0 558.0,228.0 536.0,228.0 491.0,223.0 436.0,222.0 400.0,224.4 350.0,224.5 331.0,221.0"/>
<polygon fill="#00ffff" stroke="#00ffff" stroke-width="4.6" stroke-linejoin="round" points="331.0,220.0 350.0,218.0 400.0,217.5 424.0,216.0 436.0,206.5 452.0,208.0 491.0,207.6 536.0,209.2 558.0,210.4 590.0,212.0 620.0,216.0 636.0,217.0 700.0,218.0 749.0,223.5 749.0,224.0 700.0,228.3 636.0,227.2 600.0,227.0 558.0,228.0 536.0,228.0 491.0,223.0 436.0,222.0 400.0,224.4 350.0,224.5 331.0,221.0"/>
<polygon fill="#ffff00" stroke="#ffff00" stroke-width="3.2" stroke-linejoin="round" points="331.0,220.0 350.0,218.0 400.0,217.5 424.0,216.0 436.0,206.5 452.0,208.0 491.0,207.6 536.0,209.2 558.0,210.4 590.0,212.0 620.0,216.0 636.0,217.0 700.0,218.0 749.0,223.5 749.0,224.0 700.0,228.3 636.0,227.2 600.0,227.0 558.0,228.0 536.0,228.0 491.0,223.0 436.0,222.0 400.0,224.4 350.0,224.5 331.0,221.0"/>
<polygon fill="#ff2222" stroke="#ff2222" stroke-width="1.8" stroke-linejoin="round" points="331.0,220.0 350.0,218.0 400.0,217.5 424.0,216.0 436.0,206.5 452.0,208.0 491.0,207.6 536.0,209.2 558.0,210.4 590.0,212.0 620.0,216.0 636.0,217.0 700.0,218.0 749.0,223.5 749.0,224.0 700.0,228.3 636.0,227.2 600.0,227.0 558.0,228.0 536.0,228.0 491.0,223.0 436.0,222.0 400.0,224.4 350.0,224.5 331.0,221.0"/>
<polygon fill="#ffaaaa" points="331.0,220.0 350.0,218.0 400.0,217.5 424.0,216.0 436.0,206.5 452.0,208.0 491.0,207.6 536.0,209.2 558.0,210.4 590.0,212.0 620.0,216.0 636.0,217.0 700.0,218.0 749.0,223.5 749.0,224.0 700.0,228.3 636.0,227.2 600.0,227.0 558.0,228.0 536.0,228.0 491.0,223.0 436.0,222.0 400.0,224.4 350.0,224.5 331.0,221.0"/>
<polygon fill="#0055ff" stroke="#0055ff" stroke-width="6.0" stroke-linejoin="round" points="506.0,198.0 520.0,195.5 536.0,197.0 560.0,197.0 600.0,198.5 636.0,196.5 680.0,195.4 700.0,197.0 714.0,201.5 714.0,202.0 700.0,204.0 680.0,204.3 636.0,204.3 600.0,206.0 572.0,206.0 560.0,203.0 536.0,201.5 520.0,201.5 506.0,199.0"/>
<polygon fill="#00ffff" stroke="#00ffff" stroke-width="4.6" stroke-linejoin="round" points="506.0,198.0 520.0,195.5 536.0,197.0 560.0,197.0 600.0,198.5 636.0,196.5 680.0,195.4 700.0,197.0 714.0,201.5 714.0,202.0 700.0,204.0 680.0,204.3 636.0,204.3 600.0,206.0 572.0,206.0 560.0,203.0 536.0,201.5 520.0,201.5 506.0,199.0"/>
<polygon fill="#ffff00" stroke="#ffff00" stroke-width="3.2" stroke-linejoin="round" points="506.0,198.0 520.0,195.5 536.0,197.0 560.0,197.0 600.0,198.5 636.0,196.5 680.0,195.4 700.0,197.0 714.0,201.5 714.0,202.0 700.0,204.0 680.0,204.3 636.0,204.3 600.0,206.0 572.0,206.0 560.0,203.0 536.0,201.5 520.0,201.5 506.0,199.0"/>
<polygon fill="#ff2222" stroke="#ff2222" stroke-width="1.8" stroke-linejoin="round" points="506.0,198.0 520.0,195.5 536.0,197.0 560.0,197.0 600.0,198.5 636.0,196.5 680.0,195.4 700.0,197.0 714.0,201.5 714.0,202.0 700.0,204.0 680.0,204.3 636.0,204.3 600.0,206.0 572.0,206.0 560.0,203.0 536.0,201.5 520.0,201.5 506.0,199.0"/>
<polygon fill="#ffaaaa" points="506.0,198.0 520.0,195.5 536.0,197.0 560.0,197.0 600.0,198.5 636.0,196.5 680.0,195.4 700.0,197.0 714.0,201.5 714.0,202.0 700.0,204.0 680.0,204.3 636.0,204.3 600.0,206.0 572.0,206.0 560.0,203.0 536.0,201.5 520.0,201.5 506.0,199.0"/>
<polygon fill="#ffff00" points="558.0,203.0 572.0,204.0 586.0,209.0 580.0,213.7 570.0,210.0"/>
<polygon fill="#0055ff" stroke="#0055ff" stroke-width="6.0" stroke-linejoin="round" points="719.0,213.5 730.0,208.0 767.0,205.4 767.0,218.2 730.0,218.0"/>
<polygon fill="#00ffff" stroke="#00ffff" stroke-width="4.6" stroke-linejoin="round" points="719.0,213.5 730.0,208.0 767.0,205.4 767.0,218.2 730.0,218.0"/>
<polygon fill="#ffff00" stroke="#ffff00" stroke-width="3.2" stroke-linejoin="round" points="719.0,213.5 730.0,208.0 767.0,205.4 767.0,218.2 730.0,218.0"/>
<polygon fill="#ff2222" stroke="#ff2222" stroke-width="1.8" stroke-linejoin="round" points="719.0,213.5 730.0,208.0 767.0,205.4 767.0,218.2 730.0,218.0"/>
<polygon fill="#ffaaaa" points="719.0,213.5 730.0,208.0 767.0,205.4 767.0,218.2 730.0,218.0"/>
<polygon fill="#ffff00" stroke="#ffff00" stroke-width="4.0" stroke-linejoin="round" points="136.0,259.5 146.0,260.0 152.0,261.5 146.0,263.0 136.0,263.0"/>
<polygon fill="#ff2222" stroke="#ff2222" stroke-width="2.0" stroke-linejoin="round" points="136.0,259.5 146.0,260.0 152.0,261.5 146.0,263.0 136.0,263.0"/>
<polygon fill="#ffaaaa" points="136.0,259.5 146.0,260.0 152.0,261.5 146.0,263.0 136.0,263.0"/>
<polygon fill="#ffff00" stroke="#ffff00" stroke-width="4.4" stroke-linejoin="round" points="595.0,259.0 620.0,258.0 636.0,257.0 645.0,257.5 649.0,259.0 645.0,261.0 620.0,261.5 600.0,261.0"/>
<polygon fill="#ff2222" stroke="#ff2222" stroke-width="2.4" stroke-linejoin="round" points="595.0,259.0 620.0,258.0 636.0,257.0 645.0,257.5 649.0,259.0 645.0,261.0 620.0,261.5 600.0,261.0"/>
<polygon fill="#ffaaaa" points="595.0,259.0 620.0,258.0 636.0,257.0 645.0,257.5 649.0,259.0 645.0,261.0 620.0,261.5 600.0,261.0"/>
<polygon fill="#ffff00" stroke="#ffff00" stroke-width="4.8" stroke-linejoin="round" points="725.0,264.0 745.0,261.0 767.0,260.4 767.0,266.8 745.0,266.0"/>
<polygon fill="#ff2222" stroke="#ff2222" stroke-width="2.4" stroke-linejoin="round" points="725.0,264.0 745.0,261.0 767.0,260.4 767.0,266.8 745.0,266.0"/>
<polygon fill="#ffaaaa" points="725.0,264.0 745.0,261.0 767.0,260.4 767.0,266.8 745.0,266.0"/>
<polygon fill="#ffff00" points="500.0,275.0 512.0,270.5 525.0,268.3 550.0,268.3 562.0,272.0 567.4,276.6 540.0,276.3 510.0,276.0"/>
<polygon fill="#ff5500" points="503.0,274.5 515.0,271.0 530.0,269.2 550.0,269.2 558.0,272.5 560.0,275.5 540.0,275.2 508.0,275.0"/>
<polygon fill="#ff2222" points="506.0,274.0 516.0,271.3 545.0,270.0 555.0,273.0 553.0,275.0 520.0,274.8"/>
<polygon fill="#ffaaaa" points="516.5,272.5 530.0,269.6 545.0,269.8 550.0,272.0 548.6,273.8 530.0,273.5"/>
<polygon fill="#ff2222" points="622.0,211.5 650.0,202.5 680.0,202.0 710.0,202.0 726.0,206.0 710.0,213.5 680.0,219.5 650.0,219.9"/>
<polygon fill="#ffff00" points="624.0,211.5 650.0,203.5 680.0,203.0 710.0,203.0 724.0,206.0 710.0,212.5 680.0,218.5 650.0,218.9"/>
<polygon fill="#00ffff" points="626.0,211.5 650.0,204.2 680.0,203.7 710.0,203.7 722.0,206.0 710.0,211.8 680.0,217.8 650.0,218.2"/>
<polygon fill="#0055ff" points="628.0,211.5 650.0,205.0 680.0,204.5 710.0,204.5 720.0,206.0 710.0,211.0 680.0,217.0 650.0,217.4"/>
<polygon fill="#0000aa" points="629.0,211.5 650.0,205.5 680.0,205.0 710.0,205.0 719.0,206.0 710.0,210.5 680.0,216.5 650.0,216.9"/>
<polygon fill="#7700aa" points="630.0,211.5 650.0,206.0 680.0,205.5 710.0,205.5 718.0,206.0 710.0,210.0 680.0,216.0 650.0,216.4"/>
<polygon fill="#ff2222" points="579.0,211.5 600.0,204.5 615.0,204.5 631.0,211.5 615.0,218.8 600.0,218.5"/>
<polygon fill="#ffff00" points="581.0,211.5 600.0,205.5 615.0,205.5 629.0,211.5 615.0,217.8 600.0,217.5"/>
<polygon fill="#00ffff" points="584.0,211.5 600.0,206.5 615.0,206.5 626.0,211.5 615.0,216.8 600.0,216.5"/>
<polygon fill="#0055ff" points="586.5,211.5 600.0,207.5 615.0,207.5 623.5,211.5 615.0,215.8 600.0,215.5"/>
<polygon fill="#0000aa" points="589.0,211.5 600.0,208.5 615.0,208.5 621.0,211.5 615.0,214.8 600.0,214.5"/>
<polygon fill="#ffff00" points="469.0,225.0 500.0,221.0 536.0,219.0 560.0,219.5 584.0,223.5 500.0,229.0 536.0,227.8 560.0,227.5"/>
<polygon fill="#00ffff" points="471.0,225.0 500.0,221.7 536.0,219.7 560.0,220.2 582.0,223.5 500.0,228.3 536.0,227.1 560.0,226.8"/>
<polygon fill="#0055ff" points="473.0,225.0 500.0,222.5 536.0,220.5 560.0,221.0 580.0,223.5 500.0,227.5 536.0,226.3 560.0,226.0"/>
<polygon fill="#0000aa" points="475.0,225.0 500.0,223.5 536.0,221.5 560.0,222.0 578.0,223.5 500.0,226.5 536.0,225.3 560.0,225.0"/>
<polygon fill="#ff2222" points="703.0,243.0 730.0,236.5 767.0,236.0 730.0,249.5 767.0,249.7"/>
<polygon fill="#ffff00" points="705.0,243.0 730.0,237.5 767.0,237.0 730.0,248.5 767.0,248.7"/>
<polygon fill="#00ffff" points="707.0,243.0 730.0,238.5 767.0,238.0 730.0,247.5 767.0,247.7"/>
<polygon fill="#0055ff" points="710.0,243.0 730.0,239.3 767.0,238.8 730.0,246.7 767.0,246.9"/>
<polygon fill="#0000aa" points="711.5,243.0 730.0,239.9 767.0,239.4 730.0,246.1 767.0,246.3"/>
<polygon fill="#7700aa" points="713.0,243.0 730.0,240.5 767.0,240.0 730.0,245.5 767.0,245.7"/>
<!--/FIELD-->
</g>
<g shape-rendering="crispEdges">
<rect x="135" y="156" width="634" height="2"/>
<rect x="135" y="472" width="634" height="2"/>
<rect x="135" y="156" width="2" height="318"/>
<rect x="767" y="156" width="2" height="318"/>
<rect x="159" y="468" width="1" height="4"/><rect x="159" y="158" width="1" height="4"/><rect x="183" y="464" width="2" height="8"/><rect x="183" y="158" width="2" height="8"/><rect x="210" y="468" width="1" height="4"/><rect x="210" y="158" width="1" height="4"/><rect x="234" y="464" width="2" height="8"/><rect x="234" y="158" width="2" height="8"/><rect x="261" y="468" width="1" height="4"/><rect x="261" y="158" width="1" height="4"/><rect x="285" y="464" width="2" height="8"/><rect x="285" y="158" width="2" height="8"/><rect x="312" y="468" width="1" height="4"/><rect x="312" y="158" width="1" height="4"/><rect x="336" y="464" width="2" height="8"/><rect x="336" y="158" width="2" height="8"/><rect x="363" y="468" width="1" height="4"/><rect x="363" y="158" width="1" height="4"/><rect x="387" y="464" width="2" height="8"/><rect x="387" y="158" width="2" height="8"/><rect x="414" y="468" width="1" height="4"/><rect x="414" y="158" width="1" height="4"/><rect x="438" y="464" width="2" height="8"/><rect x="438" y="158" width="2" height="8"/><rect x="465" y="468" width="1" height="4"/><rect x="465" y="158" width="1" height="4"/><rect x="489" y="464" width="2" height="8"/><rect x="489" y="158" width="2" height="8"/><rect x="516" y="468" width="1" height="4"/><rect x="516" y="158" width="1" height="4"/><rect x="540" y="464" width="2" height="8"/><rect x="540" y="158" width="2" height="8"/><rect x="567" y="468" width="1" height="4"/><rect x="567" y="158" width="1" height="4"/><rect x="591" y="464" width="2" height="8"/><rect x="591" y="158" width="2" height="8"/><rect x="618" y="468" width="1" height="4"/><rect x="618" y="158" width="1" height="4"/><rect x="642" y="464" width="2" height="8"/><rect x="642" y="158" width="2" height="8"/><rect x="669" y="468" width="1" height="4"/><rect x="669" y="158" width="1" height="4"/><rect x="693" y="464" width="2" height="8"/><rect x="693" y="158" width="2" height="8"/><rect x="720" y="468" width="1" height="4"/><rect x="720" y="158" width="1" height="4"/><rect x="744" y="464" width="2" height="8"/><rect x="744" y="158" width="2" height="8"/><rect x="137" y="447" width="4" height="1"/><rect x="763" y="447" width="4" height="1"/><rect x="137" y="420" width="8" height="2"/><rect x="759" y="420" width="8" height="2"/><rect x="137" y="394" width="4" height="1"/><rect x="763" y="394" width="4" height="1"/><rect x="137" y="367" width="8" height="2"/><rect x="759" y="367" width="8" height="2"/><rect x="137" y="341" width="4" height="1"/><rect x="763" y="341" width="4" height="1"/><rect x="137" y="314" width="8" height="2"/><rect x="759" y="314" width="8" height="2"/><rect x="137" y="288" width="4" height="1"/><rect x="763" y="288" width="4" height="1"/><rect x="137" y="261" width="8" height="2"/><rect x="759" y="261" width="8" height="2"/><rect x="137" y="235" width="4" height="1"/><rect x="763" y="235" width="4" height="1"/><rect x="137" y="208" width="8" height="2"/><rect x="759" y="208" width="8" height="2"/><rect x="137" y="182" width="4" height="1"/><rect x="763" y="182" width="4" height="1"/>
</g>
<g id="cbar" shape-rendering="crispEdges">
<rect x="785" y="247" width="17" height="23" fill="#ff2222"/>
<rect x="785" y="270" width="17" height="22" fill="#ff5500"/>
<rect x="785" y="292" width="17" height="23" fill="#ffaa00"/>
<rect x="785" y="315" width="17" height="23" fill="#ffff00"/>
<rect x="785" y="338" width="17" height="22" fill="#88ff00"/>
<rect x="785" y="360" width="17" height="23" fill="#00ff88"/>
<rect x="785" y="383" width="17" height="22" fill="#00ffff"/>
<rect x="785" y="405" width="17" height="23" fill="#0055ff"/>
<rect x="785" y="428" width="17" height="23" fill="#0000aa"/>
<rect x="785" y="451" width="17" height="22" fill="#3300aa"/>
</g>
<g id="cbarlines" stroke="#000" stroke-width="2" fill="none">
<path d="M784 247 L793 207 L802 247 Z" fill="#ffaaaa" stroke-linejoin="miter"/>
<path d="M784 472 L793 514 L802 472 Z" fill="#7700aa"/>
<path d="M784 247 V472 M802 247 V472"/>
<path d="M784 270h18M784 292h18M784 315h18M784 338h18M784 360h18M784 383h18M784 405h18M784 428h18M784 451h18"/>
</g>
<!--TEXT-->
<g fill="none" stroke="#000" stroke-width="1.7" stroke-linecap="round" stroke-linejoin="round" shape-rendering="crispEdges"><path transform="translate(226.95,111.75) scale(18.5,18.5)" d="M0,-0.7 V0.32 M0.000,-0.350 A0.290,0.350 0 1 0 0.580,-0.350 A0.290,0.350 0 1 0 0.000,-0.350" vector-effect="non-scaling-stroke"/><path transform="translate(244.05,111.75) scale(18.5,18.5)" d="M0.000,-0.350 A0.314,0.350 0 1 0 0.628,-0.350 A0.314,0.350 0 1 0 0.000,-0.350" vector-effect="non-scaling-stroke"/><path transform="translate(260.65,111.75) scale(18.5,18.5)" d="M0.165,-1 V-0.12 Q0.165,0 0.3,0 H0.39 M0,-0.7 H0.39" vector-effect="non-scaling-stroke"/><path transform="translate(272.85,111.75) scale(18.5,18.5)" d="M0,-0.350 H0.61 A0.305,0.35 0 1 0 0.539,-0.125" vector-effect="non-scaling-stroke"/><path transform="translate(289.85,111.75) scale(18.5,18.5)" d="M0,-0.7 V0 M0,-0.399 Q0.03,-0.7 0.27,-0.7 Q0.546,-0.7 0.546,-0.399 V0" vector-effect="non-scaling-stroke"/><path transform="translate(307.65,111.75) scale(18.5,18.5)" d="M0.165,-1 V-0.12 Q0.165,0 0.3,0 H0.39 M0,-0.7 H0.39" vector-effect="non-scaling-stroke"/><path transform="translate(318.55,111.75) scale(18.5,18.5)" d="M0,-0.7 V0 M-0.06,-0.94 L0.06,-0.94 L0,-1.05 Z" fill="#000" vector-effect="non-scaling-stroke"/><path transform="translate(325.25,111.75) scale(18.5,18.5)" d="M0.58,-0.7 V0 M0.000,-0.350 A0.290,0.350 0 1 0 0.580,-0.350 A0.290,0.350 0 1 0 0.000,-0.350" vector-effect="non-scaling-stroke"/><path transform="translate(344.05,111.75) scale(18.5,18.5)" d="M0,-1 V0" vector-effect="non-scaling-stroke"/><path transform="translate(363.85,111.75) scale(18.5,18.5)" d="M0.165,-1 V-0.12 Q0.165,0 0.3,0 H0.39 M0,-0.7 H0.39" vector-effect="non-scaling-stroke"/><path transform="translate(375.85,111.75) scale(18.5,18.5)" d="M0,-0.350 H0.61 A0.305,0.35 0 1 0 0.539,-0.125" vector-effect="non-scaling-stroke"/><path transform="translate(393.05,111.75) scale(18.5,18.5)" d="M0,-0.7 V0 M0,-0.399 Q0.03,-0.7 0.28,-0.7 Q0.565,-0.7 0.565,-0.399 V0 M0.565,-0.399 Q0.6,-0.7 0.85,-0.7 Q1.13,-0.7 1.13,-0.399 V0" vector-effect="non-scaling-stroke"/><path transform="translate(420.95,111.75) scale(18.5,18.5)" d="M0,-0.7 V0.32 M0.000,-0.350 A0.290,0.350 0 1 0 0.580,-0.350 A0.290,0.350 0 1 0 0.000,-0.350" vector-effect="non-scaling-stroke"/><path transform="translate(437.85,111.75) scale(18.5,18.5)" d="M0,-0.350 H0.61 A0.305,0.35 0 1 0 0.539,-0.125" vector-effect="non-scaling-stroke"/><path transform="translate(455.05,111.75) scale(18.5,18.5)" d="M0,-0.7 V0 M0,-0.399 Q0.04,-0.7 0.28,-0.7 H0.45" vector-effect="non-scaling-stroke"/><path transform="translate(466.65,111.75) scale(18.5,18.5)" d="M0.58,-0.7 V0 M0.000,-0.350 A0.290,0.350 0 1 0 0.580,-0.350 A0.290,0.350 0 1 0 0.000,-0.350" vector-effect="non-scaling-stroke"/><path transform="translate(482.75,111.75) scale(18.5,18.5)" d="M0.165,-1 V-0.12 Q0.165,0 0.3,0 H0.39 M0,-0.7 H0.39" vector-effect="non-scaling-stroke"/><path transform="translate(495.25,111.75) scale(18.5,18.5)" d="M0,-0.7 V-0.301 Q0,0 0.27,0 Q0.546,0 0.546,-0.301 M0.546,-0.7 V0" vector-effect="non-scaling-stroke"/><path transform="translate(512.45,111.75) scale(18.5,18.5)" d="M0,-0.7 V0 M0,-0.399 Q0.04,-0.7 0.28,-0.7 H0.45" vector-effect="non-scaling-stroke"/><path transform="translate(524.05,111.75) scale(18.5,18.5)" d="M0,-0.350 H0.61 A0.305,0.35 0 1 0 0.539,-0.125" vector-effect="non-scaling-stroke"/><path transform="translate(556.15,111.75) scale(18.5,18.5)" d="M0.58,-1 V0 M0.000,-0.350 A0.290,0.350 0 1 0 0.580,-0.350 A0.290,0.350 0 1 0 0.000,-0.350" vector-effect="non-scaling-stroke"/><path transform="translate(573.25,111.75) scale(18.5,18.5)" d="M0,-0.350 H0.61 A0.305,0.35 0 1 0 0.539,-0.125" vector-effect="non-scaling-stroke"/><path transform="translate(589.35,111.75) scale(18.5,18.5)" d="M0,-0.7 L0.3,0 L0.6,-0.7" vector-effect="non-scaling-stroke"/><path transform="translate(605.15,111.75) scale(18.5,18.5)" d="M0,-0.7 V0 M-0.06,-0.94 L0.06,-0.94 L0,-1.05 Z" fill="#000" vector-effect="non-scaling-stroke"/><path transform="translate(611.85,111.75) scale(18.5,18.5)" d="M0.58,-0.7 V0 M0.000,-0.350 A0.290,0.350 0 1 0 0.580,-0.350 A0.290,0.350 0 1 0 0.000,-0.350" vector-effect="non-scaling-stroke"/><path transform="translate(628.85,111.75) scale(18.5,18.5)" d="M0.165,-1 V-0.12 Q0.165,0 0.3,0 H0.39 M0,-0.7 H0.39" vector-effect="non-scaling-stroke"/><path transform="translate(640.45,111.75) scale(18.5,18.5)" d="M0,-0.7 V0 M-0.06,-0.94 L0.06,-0.94 L0,-1.05 Z" fill="#000" vector-effect="non-scaling-stroke"/><path transform="translate(647.85,111.75) scale(18.5,18.5)" d="M0.000,-0.350 A0.314,0.350 0 1 0 0.628,-0.350 A0.314,0.350 0 1 0 0.000,-0.350" vector-effect="non-scaling-stroke"/><path transform="translate(666.65,111.75) scale(18.5,18.5)" d="M0,-0.7 V0 M0,-0.399 Q0.03,-0.7 0.27,-0.7 Q0.546,-0.7 0.546,-0.399 V0" vector-effect="non-scaling-stroke"/></g>
<g fill="none" stroke="#000" stroke-width="1.8" stroke-linecap="round" stroke-linejoin="round" shape-rendering="crispEdges"><path transform="translate(379.90,545.70) scale(15.0,14.4)" d="M0,-1 L0.8,0 M0.8,-1 L0,0" vector-effect="non-scaling-stroke"/><path transform="translate(406.90,545.70) scale(15.0,14.4)" d="M0.590,-0.549 A0.33,0.34 0 1 0 0.590,-0.131" vector-effect="non-scaling-stroke"/><path transform="translate(420.10,545.70) scale(15.0,14.4)" d="M0.000,-0.340 A0.314,0.340 0 1 0 0.628,-0.340 A0.314,0.340 0 1 0 0.000,-0.340" vector-effect="non-scaling-stroke"/><path transform="translate(434.30,545.70) scale(15.0,14.4)" d="M0.000,-0.340 A0.314,0.340 0 1 0 0.628,-0.340 A0.314,0.340 0 1 0 0.000,-0.340" vector-effect="non-scaling-stroke"/><path transform="translate(448.90,545.70) scale(15.0,14.4)" d="M0,-0.68 V0 M0,-0.388 Q0.04,-0.68 0.28,-0.68 H0.45" vector-effect="non-scaling-stroke"/><path transform="translate(457.90,545.70) scale(15.0,14.4)" d="M0.58,-1 V0 M0.000,-0.340 A0.290,0.340 0 1 0 0.580,-0.340 A0.290,0.340 0 1 0 0.000,-0.340" vector-effect="non-scaling-stroke"/><path transform="translate(472.60,545.70) scale(15.0,14.4)" d="M0,-0.68 V0 M-0.06,-0.94 L0.06,-0.94 L0,-1.05 Z" fill="#000" vector-effect="non-scaling-stroke"/><path transform="translate(479.20,545.70) scale(15.0,14.4)" d="M0,-0.68 V0 M0,-0.388 Q0.03,-0.68 0.27,-0.68 Q0.546,-0.68 0.546,-0.388 V0" vector-effect="non-scaling-stroke"/><path transform="translate(491.90,545.70) scale(15.0,14.4)" d="M0.58,-0.68 V0 M0.000,-0.340 A0.290,0.340 0 1 0 0.580,-0.340 A0.290,0.340 0 1 0 0.000,-0.340" vector-effect="non-scaling-stroke"/><path transform="translate(503.90,545.70) scale(15.0,14.4)" d="M0.165,-1 V-0.12 Q0.165,0 0.3,0 H0.39 M0,-0.68 H0.39" vector-effect="non-scaling-stroke"/><path transform="translate(514.60,545.70) scale(15.0,14.4)" d="M0,-0.340 H0.61 A0.305,0.34 0 1 0 0.539,-0.121" vector-effect="non-scaling-stroke"/></g>
<g fill="none" stroke="#000" stroke-width="1.8" stroke-linecap="round" stroke-linejoin="round" shape-rendering="crispEdges" transform="translate(98.5,388) rotate(-90)"><path transform="translate(0.90,0.00) scale(15.0,14.4)" d="M0.05,-1 H0.8 L0,0 H0.82" vector-effect="non-scaling-stroke"/><path transform="translate(27.90,0.00) scale(15.0,14.4)" d="M0.590,-0.549 A0.33,0.34 0 1 0 0.590,-0.131" vector-effect="non-scaling-stroke"/><path transform="translate(41.10,0.00) scale(15.0,14.4)" d="M0.000,-0.340 A0.314,0.340 0 1 0 0.628,-0.340 A0.314,0.340 0 1 0 0.000,-0.340" vector-effect="non-scaling-stroke"/><path transform="translate(55.30,0.00) scale(15.0,14.4)" d="M0.000,-0.340 A0.314,0.340 0 1 0 0.628,-0.340 A0.314,0.340 0 1 0 0.000,-0.340" vector-effect="non-scaling-stroke"/><path transform="translate(69.90,0.00) scale(15.0,14.4)" d="M0,-0.68 V0 M0,-0.388 Q0.04,-0.68 0.28,-0.68 H0.45" vector-effect="non-scaling-stroke"/><path transform="translate(78.90,0.00) scale(15.0,14.4)" d="M0.58,-1 V0 M0.000,-0.340 A0.290,0.340 0 1 0 0.580,-0.340 A0.290,0.340 0 1 0 0.000,-0.340" vector-effect="non-scaling-stroke"/><path transform="translate(93.60,0.00) scale(15.0,14.4)" d="M0,-0.68 V0 M-0.06,-0.94 L0.06,-0.94 L0,-1.05 Z" fill="#000" vector-effect="non-scaling-stroke"/><path transform="translate(100.20,0.00) scale(15.0,14.4)" d="M0,-0.68 V0 M0,-0.388 Q0.03,-0.68 0.27,-0.68 Q0.546,-0.68 0.546,-0.388 V0" vector-effect="non-scaling-stroke"/><path transform="translate(112.90,0.00) scale(15.0,14.4)" d="M0.58,-0.68 V0 M0.000,-0.340 A0.290,0.340 0 1 0 0.580,-0.340 A0.290,0.340 0 1 0 0.000,-0.340" vector-effect="non-scaling-stroke"/><path transform="translate(124.90,0.00) scale(15.0,14.4)" d="M0.165,-1 V-0.12 Q0.165,0 0.3,0 H0.39 M0,-0.68 H0.39" vector-effect="non-scaling-stroke"/><path transform="translate(135.60,0.00) scale(15.0,14.4)" d="M0,-0.340 H0.61 A0.305,0.34 0 1 0 0.539,-0.121" vector-effect="non-scaling-stroke"/></g>
<g fill="none" stroke="#000" stroke-width="1.3" stroke-linecap="round" stroke-linejoin="round" shape-rendering="crispEdges"><path transform="translate(778.55,168.25) scale(11.2,10.9)" d="M0.165,-1 V-0.12 Q0.165,0 0.3,0 H0.39 M0,-0.6 H0.39" vector-effect="non-scaling-stroke"/><path transform="translate(786.45,168.25) scale(11.2,10.9)" d="M0,-0.64 H0.66 M0,-0.36 H0.66" vector-effect="non-scaling-stroke"/><path transform="translate(799.25,168.25) scale(11.2,10.9)" d="M0.02,-0.82 Q0.1,-1 0.32,-1 Q0.62,-1 0.62,-0.76 Q0.62,-0.54 0.3,-0.54 Q0.66,-0.54 0.66,-0.27 Q0.66,0 0.33,0 Q0.09,0 0,-0.16" vector-effect="non-scaling-stroke"/><path transform="translate(811.45,168.25) scale(11.2,10.9)" d="M0,-1 H0.56 L0.18,0" vector-effect="non-scaling-stroke"/><path transform="translate(819.95,168.25) scale(11.2,10.9)" d="M0.33,-0.55 Q0.05,-0.55 0.05,-0.78 Q0.05,-1 0.33,-1 Q0.61,-1 0.61,-0.78 Q0.61,-0.55 0.33,-0.55 Q0,-0.55 0,-0.28 Q0,0 0.33,0 Q0.66,0 0.66,-0.28 Q0.66,-0.55 0.33,-0.55 Z" vector-effect="non-scaling-stroke"/><path transform="translate(831.45,168.25) scale(11.2,10.9)" d="M0.000,-0.500 A0.300,0.500 0 1 0 0.600,-0.500 A0.300,0.500 0 1 0 0.000,-0.500" vector-effect="non-scaling-stroke"/><path transform="translate(841.85,168.25) scale(11.2,10.9)" d="M0.000,-0.500 A0.300,0.500 0 1 0 0.600,-0.500 A0.300,0.500 0 1 0 0.000,-0.500" vector-effect="non-scaling-stroke"/><path transform="translate(851.55,168.25) scale(11.2,10.9)" d="M0.000,-0.500 A0.300,0.500 0 1 0 0.600,-0.500 A0.300,0.500 0 1 0 0.000,-0.500" vector-effect="non-scaling-stroke"/><path transform="translate(869.25,168.25) scale(11.2,10.9)" d="M0.5,-0.510 Q0.42,-0.6 0.27,-0.6 Q0.02,-0.6 0.02,-0.444 Q0.02,-0.312 0.27,-0.300 Q0.54,-0.282 0.54,-0.144 Q0.54,0 0.27,0 Q0.06,0 0,-0.096" vector-effect="non-scaling-stroke"/></g>
<g fill="none" stroke="#000" stroke-width="1.9" stroke-linecap="round" stroke-linejoin="round" shape-rendering="crispEdges"><path transform="translate(48.25,133.95) scale(12.0,9.5)" d="M0.32,-1.2 Q0,-0.88 0,-0.5 Q0,-0.1 0.32,0.15" vector-effect="non-scaling-stroke"/><path transform="translate(56.85,133.95) scale(12.0,9.5)" d="M0,-0.62 L0.62,0 M0.62,-0.62 L0,0" vector-effect="non-scaling-stroke"/><path transform="translate(70.75,133.95) scale(12.0,9.5)" d="M0,-0.76 L0.3,-1 V0" vector-effect="non-scaling-stroke"/><path transform="translate(79.45,133.95) scale(12.0,9.5)" d="M0.67,-1 H0 V0 H0.67 M0,-0.5 H0.55" vector-effect="non-scaling-stroke"/><path transform="translate(89.35,133.95) scale(12.0,9.5)" d="M0.5,0 V-1 L0,-0.3 H0.68" vector-effect="non-scaling-stroke"/><path transform="translate(109.25,133.95) scale(12.0,9.5)" d="M0,-0.62 V0 M0,-0.353 Q0.03,-0.62 0.28,-0.62 Q0.565,-0.62 0.565,-0.353 V0 M0.565,-0.353 Q0.6,-0.62 0.85,-0.62 Q1.13,-0.62 1.13,-0.353 V0" vector-effect="non-scaling-stroke"/><path transform="translate(127.15,133.95) scale(12.0,9.5)" d="M0,-1.2 Q0.32,-0.88 0.32,-0.5 Q0.32,-0.1 0,0.15" vector-effect="non-scaling-stroke"/></g>
<g fill="none" stroke="#000" stroke-width="1.9" stroke-linecap="round" stroke-linejoin="round" shape-rendering="crispEdges"><path transform="translate(685.95,516.80) scale(12.0,9.5)" d="M0.32,-1.2 Q0,-0.88 0,-0.5 Q0,-0.1 0.32,0.15" vector-effect="non-scaling-stroke"/><path transform="translate(693.75,516.80) scale(12.0,9.5)" d="M0,-0.62 L0.62,0 M0.62,-0.62 L0,0" vector-effect="non-scaling-stroke"/><path transform="translate(707.75,516.80) scale(12.0,9.5)" d="M0,-0.76 L0.3,-1 V0" vector-effect="non-scaling-stroke"/><path transform="translate(716.25,516.80) scale(12.0,9.5)" d="M0.000,-0.500 A0.300,0.500 0 1 0 0.600,-0.500 A0.300,0.500 0 1 0 0.000,-0.500" vector-effect="non-scaling-stroke"/><path transform="translate(728.15,516.80) scale(12.0,9.5)" d="M0.000,-0.500 A0.300,0.500 0 1 0 0.600,-0.500 A0.300,0.500 0 1 0 0.000,-0.500" vector-effect="non-scaling-stroke"/><path transform="translate(739.35,516.80) scale(12.0,9.5)" d="M0.000,-0.500 A0.300,0.500 0 1 0 0.600,-0.500 A0.300,0.500 0 1 0 0.000,-0.500" vector-effect="non-scaling-stroke"/><path transform="translate(759.95,516.80) scale(12.0,9.5)" d="M0,-0.62 V0 M0,-0.353 Q0.03,-0.62 0.28,-0.62 Q0.565,-0.62 0.565,-0.353 V0 M0.565,-0.353 Q0.6,-0.62 0.85,-0.62 Q1.13,-0.62 1.13,-0.353 V0" vector-effect="non-scaling-stroke"/><path transform="translate(777.05,516.80) scale(12.0,9.5)" d="M0,-1.2 Q0.32,-0.88 0.32,-0.5 Q0.32,-0.1 0,0.15" vector-effect="non-scaling-stroke"/></g>
<g fill="none" stroke="#000" stroke-width="1.9" stroke-linecap="round" stroke-linejoin="round" shape-rendering="crispEdges"><path transform="translate(811.65,273.75) scale(9.600000000000001,9.5)" d="M0.000,-0.500 A0.300,0.500 0 1 0 0.600,-0.500 A0.300,0.500 0 1 0 0.000,-0.500" vector-effect="non-scaling-stroke"/><path transform="translate(821.85,273.75) scale(12.0,9.5)" d="M0.08,-0.08 L0.081,-0.08" vector-effect="non-scaling-stroke"/><path transform="translate(827.15,273.75) scale(12.0,9.5)" d="M0.02,-0.82 Q0.1,-1 0.32,-1 Q0.62,-1 0.62,-0.76 Q0.62,-0.54 0.3,-0.54 Q0.66,-0.54 0.66,-0.27 Q0.66,0 0.33,0 Q0.09,0 0,-0.16" vector-effect="non-scaling-stroke"/><path transform="translate(837.35,273.75) scale(12.0,9.5)" d="M0.02,-0.74 Q0.04,-1 0.34,-1 Q0.66,-1 0.66,-0.72 Q0.66,-0.52 0.38,-0.36 L0,0 H0.68" vector-effect="non-scaling-stroke"/></g>
<g fill="none" stroke="#000" stroke-width="1.9" stroke-linecap="round" stroke-linejoin="round" shape-rendering="crispEdges"><path transform="translate(811.65,318.75) scale(9.600000000000001,9.5)" d="M0.000,-0.500 A0.300,0.500 0 1 0 0.600,-0.500 A0.300,0.500 0 1 0 0.000,-0.500" vector-effect="non-scaling-stroke"/><path transform="translate(821.85,318.75) scale(12.0,9.5)" d="M0.08,-0.08 L0.081,-0.08" vector-effect="non-scaling-stroke"/><path transform="translate(829.85,318.75) scale(12.0,9.5)" d="M0,-0.76 L0.3,-1 V0" vector-effect="non-scaling-stroke"/><path transform="translate(836.85,318.75) scale(12.0,9.5)" d="M0.6,-0.86 Q0.52,-1 0.33,-1 Q0,-1 0,-0.5 Q0,0 0.33,0 Q0.66,0 0.66,-0.31 Q0.66,-0.6 0.33,-0.6 Q0.06,-0.6 0,-0.36" vector-effect="non-scaling-stroke"/></g>
<g fill="none" stroke="#000" stroke-width="1.9" stroke-linecap="round" stroke-linejoin="round" shape-rendering="crispEdges"><path transform="translate(811.65,363.95) scale(9.600000000000001,9.5)" d="M0.000,-0.500 A0.300,0.500 0 1 0 0.600,-0.500 A0.300,0.500 0 1 0 0.000,-0.500" vector-effect="non-scaling-stroke"/></g>
<g fill="none" stroke="#000" stroke-width="1.9" stroke-linecap="round" stroke-linejoin="round" shape-rendering="crispEdges"><path transform="translate(811.95,409.75) scale(12.0,9.5)" d="M0,-0.5 H0.76" vector-effect="non-scaling-stroke"/><path transform="translate(824.85,409.75) scale(9.600000000000001,9.5)" d="M0.000,-0.500 A0.300,0.500 0 1 0 0.600,-0.500 A0.300,0.500 0 1 0 0.000,-0.500" vector-effect="non-scaling-stroke"/><path transform="translate(835.75,409.75) scale(12.0,9.5)" d="M0.08,-0.08 L0.081,-0.08" vector-effect="non-scaling-stroke"/><path transform="translate(842.65,409.75) scale(12.0,9.5)" d="M0,-0.76 L0.3,-1 V0" vector-effect="non-scaling-stroke"/><path transform="translate(849.65,409.75) scale(12.0,9.5)" d="M0.6,-0.86 Q0.52,-1 0.33,-1 Q0,-1 0,-0.5 Q0,0 0.33,0 Q0.66,0 0.66,-0.31 Q0.66,-0.6 0.33,-0.6 Q0.06,-0.6 0,-0.36" vector-effect="non-scaling-stroke"/></g>
<g fill="none" stroke="#000" stroke-width="1.9" stroke-linecap="round" stroke-linejoin="round" shape-rendering="crispEdges"><path transform="translate(811.95,454.45) scale(12.0,9.5)" d="M0,-0.5 H0.76" vector-effect="non-scaling-stroke"/><path transform="translate(824.85,454.45) scale(9.600000000000001,9.5)" d="M0.000,-0.500 A0.300,0.500 0 1 0 0.600,-0.500 A0.300,0.500 0 1 0 0.000,-0.500" vector-effect="non-scaling-stroke"/><path transform="translate(835.75,454.45) scale(12.0,9.5)" d="M0.08,-0.08 L0.081,-0.08" vector-effect="non-scaling-stroke"/><path transform="translate(840.75,454.45) scale(12.0,9.5)" d="M0.02,-0.82 Q0.1,-1 0.32,-1 Q0.62,-1 0.62,-0.76 Q0.62,-0.54 0.3,-0.54 Q0.66,-0.54 0.66,-0.27 Q0.66,0 0.33,0 Q0.09,0 0,-0.16" vector-effect="non-scaling-stroke"/><path transform="translate(850.65,454.45) scale(12.0,9.5)" d="M0.02,-0.74 Q0.04,-1 0.34,-1 Q0.66,-1 0.66,-0.72 Q0.66,-0.52 0.38,-0.36 L0,0 H0.68" vector-effect="non-scaling-stroke"/></g>
<g fill="none" stroke="#000" stroke-width="1.9" stroke-linecap="round" stroke-linejoin="round" shape-rendering="crispEdges"><path transform="translate(180.55,493.90) scale(12.0,9.5)" d="M0.5,0 V-1 L0,-0.3 H0.68" vector-effect="non-scaling-stroke"/><path transform="translate(231.70,493.90) scale(12.0,9.5)" d="M0.33,-0.55 Q0.05,-0.55 0.05,-0.78 Q0.05,-1 0.33,-1 Q0.61,-1 0.61,-0.78 Q0.61,-0.55 0.33,-0.55 Q0,-0.55 0,-0.28 Q0,0 0.33,0 Q0.66,0 0.66,-0.28 Q0.66,-0.55 0.33,-0.55 Z" vector-effect="non-scaling-stroke"/><path transform="translate(277.70,493.90) scale(12.0,9.5)" d="M0,-0.76 L0.3,-1 V0" vector-effect="non-scaling-stroke"/><path transform="translate(287.80,493.90) scale(12.0,9.5)" d="M0.02,-0.74 Q0.04,-1 0.34,-1 Q0.66,-1 0.66,-0.72 Q0.66,-0.52 0.38,-0.36 L0,0 H0.68" vector-effect="non-scaling-stroke"/><path transform="translate(328.70,493.90) scale(12.0,9.5)" d="M0,-0.76 L0.3,-1 V0" vector-effect="non-scaling-stroke"/><path transform="translate(338.80,493.90) scale(12.0,9.5)" d="M0.6,-0.86 Q0.52,-1 0.33,-1 Q0,-1 0,-0.5 Q0,0 0.33,0 Q0.66,0 0.66,-0.31 Q0.66,-0.6 0.33,-0.6 Q0.06,-0.6 0,-0.36" vector-effect="non-scaling-stroke"/><path transform="translate(379.70,493.90) scale(12.0,9.5)" d="M0.02,-0.74 Q0.04,-1 0.34,-1 Q0.66,-1 0.66,-0.72 Q0.66,-0.52 0.38,-0.36 L0,0 H0.68" vector-effect="non-scaling-stroke"/><path transform="translate(389.80,493.90) scale(12.0,9.5)" d="M0.000,-0.500 A0.300,0.500 0 1 0 0.600,-0.500 A0.300,0.500 0 1 0 0.000,-0.500" vector-effect="non-scaling-stroke"/><path transform="translate(430.70,493.90) scale(12.0,9.5)" d="M0.02,-0.74 Q0.04,-1 0.34,-1 Q0.66,-1 0.66,-0.72 Q0.66,-0.52 0.38,-0.36 L0,0 H0.68" vector-effect="non-scaling-stroke"/><path transform="translate(440.80,493.90) scale(12.0,9.5)" d="M0.5,0 V-1 L0,-0.3 H0.68" vector-effect="non-scaling-stroke"/><path transform="translate(481.70,493.90) scale(12.0,9.5)" d="M0.02,-0.74 Q0.04,-1 0.34,-1 Q0.66,-1 0.66,-0.72 Q0.66,-0.52 0.38,-0.36 L0,0 H0.68" vector-effect="non-scaling-stroke"/><path transform="translate(491.80,493.90) scale(12.0,9.5)" d="M0.33,-0.55 Q0.05,-0.55 0.05,-0.78 Q0.05,-1 0.33,-1 Q0.61,-1 0.61,-0.78 Q0.61,-0.55 0.33,-0.55 Q0,-0.55 0,-0.28 Q0,0 0.33,0 Q0.66,0 0.66,-0.28 Q0.66,-0.55 0.33,-0.55 Z" vector-effect="non-scaling-stroke"/><path transform="translate(532.70,493.90) scale(12.0,9.5)" d="M0.02,-0.82 Q0.1,-1 0.32,-1 Q0.62,-1 0.62,-0.76 Q0.62,-0.54 0.3,-0.54 Q0.66,-0.54 0.66,-0.27 Q0.66,0 0.33,0 Q0.09,0 0,-0.16" vector-effect="non-scaling-stroke"/><path transform="translate(542.80,493.90) scale(12.0,9.5)" d="M0.02,-0.74 Q0.04,-1 0.34,-1 Q0.66,-1 0.66,-0.72 Q0.66,-0.52 0.38,-0.36 L0,0 H0.68" vector-effect="non-scaling-stroke"/><path transform="translate(583.70,493.90) scale(12.0,9.5)" d="M0.02,-0.82 Q0.1,-1 0.32,-1 Q0.62,-1 0.62,-0.76 Q0.62,-0.54 0.3,-0.54 Q0.66,-0.54 0.66,-0.27 Q0.66,0 0.33,0 Q0.09,0 0,-0.16" vector-effect="non-scaling-stroke"/><path transform="translate(593.80,493.90) scale(12.0,9.5)" d="M0.6,-0.86 Q0.52,-1 0.33,-1 Q0,-1 0,-0.5 Q0,0 0.33,0 Q0.66,0 0.66,-0.31 Q0.66,-0.6 0.33,-0.6 Q0.06,-0.6 0,-0.36" vector-effect="non-scaling-stroke"/><path transform="translate(634.70,493.90) scale(12.0,9.5)" d="M0.5,0 V-1 L0,-0.3 H0.68" vector-effect="non-scaling-stroke"/><path transform="translate(644.80,493.90) scale(12.0,9.5)" d="M0.000,-0.500 A0.300,0.500 0 1 0 0.600,-0.500 A0.300,0.500 0 1 0 0.000,-0.500" vector-effect="non-scaling-stroke"/><path transform="translate(685.70,493.90) scale(12.0,9.5)" d="M0.5,0 V-1 L0,-0.3 H0.68" vector-effect="non-scaling-stroke"/><path transform="translate(695.80,493.90) scale(12.0,9.5)" d="M0.5,0 V-1 L0,-0.3 H0.68" vector-effect="non-scaling-stroke"/><path transform="translate(736.70,493.90) scale(12.0,9.5)" d="M0.5,0 V-1 L0,-0.3 H0.68" vector-effect="non-scaling-stroke"/><path transform="translate(746.80,493.90) scale(12.0,9.5)" d="M0.33,-0.55 Q0.05,-0.55 0.05,-0.78 Q0.05,-1 0.33,-1 Q0.61,-1 0.61,-0.78 Q0.61,-0.55 0.33,-0.55 Q0,-0.55 0,-0.28 Q0,0 0.33,0 Q0.66,0 0.66,-0.28 Q0.66,-0.55 0.33,-0.55 Z" vector-effect="non-scaling-stroke"/></g>
<g fill="none" stroke="#000" stroke-width="1.9" stroke-linecap="round" stroke-linejoin="round" shape-rendering="crispEdges"><path transform="translate(121.95,425.00) scale(12.0,9.5)" d="M0,-0.76 L0.3,-1 V0" vector-effect="non-scaling-stroke"/></g>
<g fill="none" stroke="#000" stroke-width="1.9" stroke-linecap="round" stroke-linejoin="round" shape-rendering="crispEdges"><path transform="translate(117.05,372.00) scale(12.0,9.5)" d="M0.02,-0.74 Q0.04,-1 0.34,-1 Q0.66,-1 0.66,-0.72 Q0.66,-0.52 0.38,-0.36 L0,0 H0.68" vector-effect="non-scaling-stroke"/></g>
<g fill="none" stroke="#000" stroke-width="1.9" stroke-linecap="round" stroke-linejoin="round" shape-rendering="crispEdges"><path transform="translate(117.25,319.00) scale(12.0,9.5)" d="M0.02,-0.82 Q0.1,-1 0.32,-1 Q0.62,-1 0.62,-0.76 Q0.62,-0.54 0.3,-0.54 Q0.66,-0.54 0.66,-0.27 Q0.66,0 0.33,0 Q0.09,0 0,-0.16" vector-effect="non-scaling-stroke"/></g>
<g fill="none" stroke="#000" stroke-width="1.9" stroke-linecap="round" stroke-linejoin="round" shape-rendering="crispEdges"><path transform="translate(116.65,266.00) scale(12.0,9.5)" d="M0.5,0 V-1 L0,-0.3 H0.68" vector-effect="non-scaling-stroke"/></g>
<g fill="none" stroke="#000" stroke-width="1.9" stroke-linecap="round" stroke-linejoin="round" shape-rendering="crispEdges"><path transform="translate(117.25,213.00) scale(12.0,9.5)" d="M0.62,-1 H0.1 L0.05,-0.55 Q0.16,-0.62 0.33,-0.62 Q0.66,-0.62 0.66,-0.31 Q0.66,0 0.33,0 Q0.09,0 0,-0.15" vector-effect="non-scaling-stroke"/></g>
<!--/TEXT-->
</svg>
</body></html>
